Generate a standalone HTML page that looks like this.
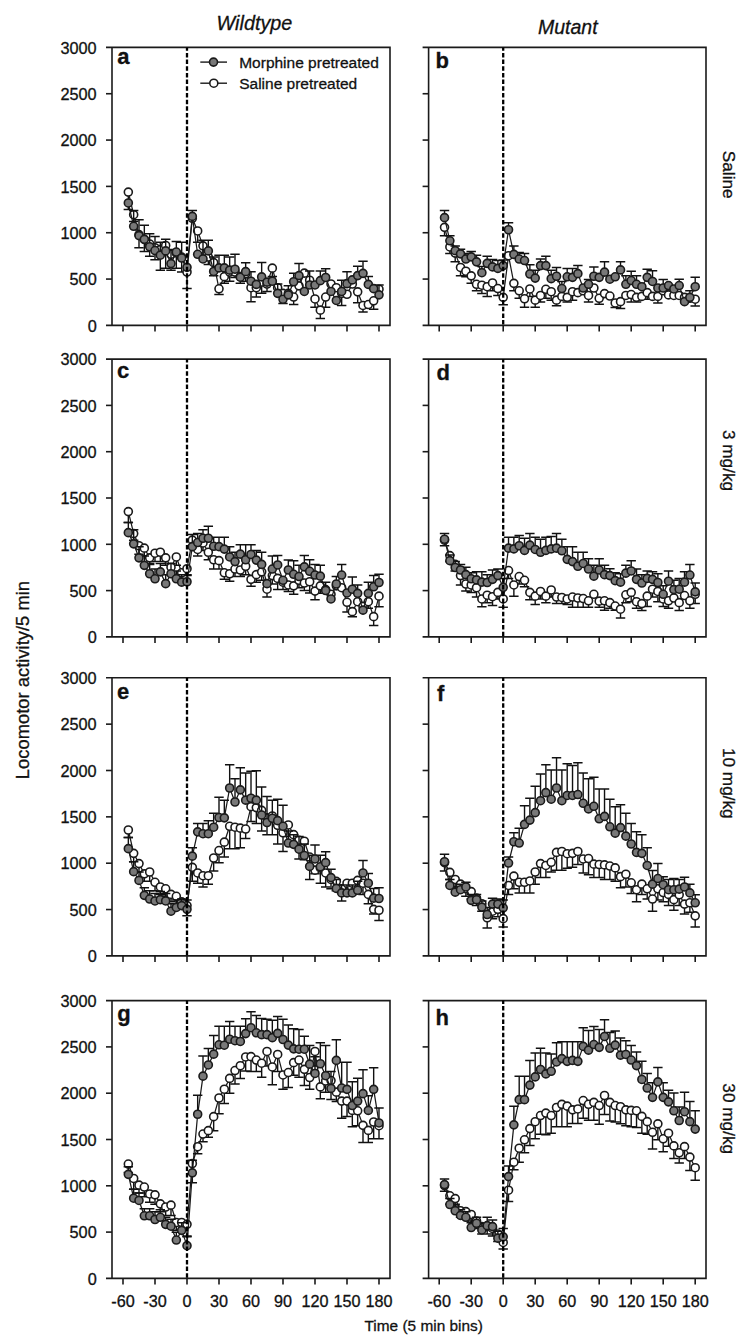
<!DOCTYPE html>
<html><head><meta charset="utf-8"><style>
html,body{margin:0;padding:0;background:#fff;overflow:hidden;}
svg{display:block;}
text{font-family:"Liberation Sans",sans-serif;fill:#111;stroke:#111;stroke-width:0.3px;}
</style></head><body>
<svg width="750" height="1344" viewBox="0 0 750 1344">
<rect width="750" height="1344" fill="#fff"/>
<path d="M106.00 47.40H390.00V325.40H106.00M112.00 47.40V325.40" fill="none" stroke="#1a1a1a" stroke-width="1.6"/>
<line x1="106.00" y1="279.07" x2="112.00" y2="279.07" stroke="#1a1a1a" stroke-width="1.6"/>
<line x1="106.00" y1="232.73" x2="112.00" y2="232.73" stroke="#1a1a1a" stroke-width="1.6"/>
<line x1="106.00" y1="186.40" x2="112.00" y2="186.40" stroke="#1a1a1a" stroke-width="1.6"/>
<line x1="106.00" y1="140.07" x2="112.00" y2="140.07" stroke="#1a1a1a" stroke-width="1.6"/>
<line x1="106.00" y1="93.73" x2="112.00" y2="93.73" stroke="#1a1a1a" stroke-width="1.6"/>
<line x1="123.00" y1="325.40" x2="123.00" y2="331.40" stroke="#1a1a1a" stroke-width="1.6"/>
<line x1="155.00" y1="325.40" x2="155.00" y2="331.40" stroke="#1a1a1a" stroke-width="1.6"/>
<line x1="187.00" y1="325.40" x2="187.00" y2="331.40" stroke="#1a1a1a" stroke-width="1.6"/>
<line x1="219.00" y1="325.40" x2="219.00" y2="331.40" stroke="#1a1a1a" stroke-width="1.6"/>
<line x1="251.00" y1="325.40" x2="251.00" y2="331.40" stroke="#1a1a1a" stroke-width="1.6"/>
<line x1="283.00" y1="325.40" x2="283.00" y2="331.40" stroke="#1a1a1a" stroke-width="1.6"/>
<line x1="315.00" y1="325.40" x2="315.00" y2="331.40" stroke="#1a1a1a" stroke-width="1.6"/>
<line x1="347.00" y1="325.40" x2="347.00" y2="331.40" stroke="#1a1a1a" stroke-width="1.6"/>
<line x1="379.00" y1="325.40" x2="379.00" y2="331.40" stroke="#1a1a1a" stroke-width="1.6"/>
<text x="117.3" y="63.6" font-size="22" font-weight="bold">a</text>
<text x="96.7" y="331.60" font-size="16.3" text-anchor="end">0</text>
<text x="96.7" y="285.27" font-size="16.3" text-anchor="end">500</text>
<text x="96.7" y="238.93" font-size="16.3" text-anchor="end">1000</text>
<text x="96.7" y="192.60" font-size="16.3" text-anchor="end">1500</text>
<text x="96.7" y="146.27" font-size="16.3" text-anchor="end">2000</text>
<text x="96.7" y="99.93" font-size="16.3" text-anchor="end">2500</text>
<text x="96.7" y="53.60" font-size="16.3" text-anchor="end">3000</text>
<path d="M128.33 192.11 L133.67 214.69 L139.00 234.67 L144.33 239.33 L149.67 244.00 L155.00 247.74 L160.33 249.60 L165.67 245.49 L171.00 254.27 L176.33 252.96 L181.67 257.07 L187.00 272.00 L192.33 218.24 L197.67 230.94 L203.00 245.86 L208.33 257.07 L213.67 262.66 L219.00 288.80 L224.33 276.67 L229.67 272.00 L235.00 272.00 L240.33 276.67 L245.67 273.87 L251.00 287.73 L256.33 287.73 L261.67 282.13 L267.00 284.00 L272.33 268.13 L277.67 287.73 L283.00 293.34 L288.33 293.34 L293.67 297.06 L299.00 285.87 L304.33 273.17 L309.67 280.26 L315.00 298.93 L320.33 310.14 L325.67 297.06 L331.00 284.00 L336.33 287.73 L341.67 293.34 L347.00 294.26 L352.33 284.00 L357.67 291.84 L363.00 305.47 L368.33 304.53 L373.67 300.80 L379.00 289.22" fill="none" stroke="#1a1a1a" stroke-width="1.25"/>
<path d="M128.33 192.11V209.46M133.67 214.69V221.59M139.00 234.67V247.74M144.33 239.33V251.46M149.67 244.00V256.13M155.00 247.74V259.87M160.33 249.60V270.13M165.67 245.49V268.27M171.00 254.27V270.13M176.33 252.96V268.27M181.67 257.07V272.01M187.00 272.00V288.43M197.67 230.94V242.14M203.00 245.86V257.07M208.33 257.07V264.54M213.67 262.66V275.73M219.00 288.80V294.39M224.33 276.67V283.20M229.67 272.00V281.33M235.00 272.00V277.59M240.33 276.67V283.20M245.67 273.87V281.34M251.00 287.73V301.73M256.33 287.73V297.06M261.67 282.13V293.34M267.00 284.00V291.47M272.33 268.13V276.53M283.00 293.34V303.60M293.67 297.06V304.53M315.00 298.93V307.33M320.33 310.14V318.53M325.67 297.06V307.33M341.67 293.34V305.47M357.67 291.84V302.66M363.00 305.47V312.00M373.67 300.80V309.19" fill="none" stroke="#111" stroke-width="1.4"/>
<path d="M123.63 209.46H133.03M128.97 221.59H138.37M134.30 247.74H143.70M139.63 251.46H149.03M144.97 256.13H154.37M150.30 259.87H159.70M155.63 270.13H165.03M160.97 268.27H170.37M166.30 270.13H175.70M171.63 268.27H181.03M176.97 272.01H186.37M182.30 288.43H191.70M192.97 242.14H202.37M198.30 257.07H207.70M203.63 264.54H213.03M208.97 275.73H218.37M214.30 294.39H223.70M219.63 283.20H229.03M224.97 281.33H234.37M230.30 277.59H239.70M235.63 283.20H245.03M240.97 281.34H250.37M246.30 301.73H255.70M251.63 297.06H261.03M256.97 293.34H266.37M262.30 291.47H271.70M267.63 276.53H277.03M278.30 303.60H287.70M288.97 304.53H298.37M310.30 307.33H319.70M315.63 318.53H325.03M320.97 307.33H330.37M336.97 305.47H346.37M352.97 302.66H362.37M358.30 312.00H367.70M368.97 309.19H378.37" fill="none" stroke="#111" stroke-width="1.5"/>
<circle cx="128.33" cy="192.11" r="4.0" fill="#fff" stroke="#1a1a1a" stroke-width="1.6"/>
<circle cx="133.67" cy="214.69" r="4.0" fill="#fff" stroke="#1a1a1a" stroke-width="1.6"/>
<circle cx="139.00" cy="234.67" r="4.0" fill="#fff" stroke="#1a1a1a" stroke-width="1.6"/>
<circle cx="144.33" cy="239.33" r="4.0" fill="#fff" stroke="#1a1a1a" stroke-width="1.6"/>
<circle cx="149.67" cy="244.00" r="4.0" fill="#fff" stroke="#1a1a1a" stroke-width="1.6"/>
<circle cx="155.00" cy="247.74" r="4.0" fill="#fff" stroke="#1a1a1a" stroke-width="1.6"/>
<circle cx="160.33" cy="249.60" r="4.0" fill="#fff" stroke="#1a1a1a" stroke-width="1.6"/>
<circle cx="165.67" cy="245.49" r="4.0" fill="#fff" stroke="#1a1a1a" stroke-width="1.6"/>
<circle cx="171.00" cy="254.27" r="4.0" fill="#fff" stroke="#1a1a1a" stroke-width="1.6"/>
<circle cx="176.33" cy="252.96" r="4.0" fill="#fff" stroke="#1a1a1a" stroke-width="1.6"/>
<circle cx="181.67" cy="257.07" r="4.0" fill="#fff" stroke="#1a1a1a" stroke-width="1.6"/>
<circle cx="187.00" cy="272.00" r="4.0" fill="#fff" stroke="#1a1a1a" stroke-width="1.6"/>
<circle cx="192.33" cy="218.24" r="4.0" fill="#fff" stroke="#1a1a1a" stroke-width="1.6"/>
<circle cx="197.67" cy="230.94" r="4.0" fill="#fff" stroke="#1a1a1a" stroke-width="1.6"/>
<circle cx="203.00" cy="245.86" r="4.0" fill="#fff" stroke="#1a1a1a" stroke-width="1.6"/>
<circle cx="208.33" cy="257.07" r="4.0" fill="#fff" stroke="#1a1a1a" stroke-width="1.6"/>
<circle cx="213.67" cy="262.66" r="4.0" fill="#fff" stroke="#1a1a1a" stroke-width="1.6"/>
<circle cx="219.00" cy="288.80" r="4.0" fill="#fff" stroke="#1a1a1a" stroke-width="1.6"/>
<circle cx="224.33" cy="276.67" r="4.0" fill="#fff" stroke="#1a1a1a" stroke-width="1.6"/>
<circle cx="229.67" cy="272.00" r="4.0" fill="#fff" stroke="#1a1a1a" stroke-width="1.6"/>
<circle cx="235.00" cy="272.00" r="4.0" fill="#fff" stroke="#1a1a1a" stroke-width="1.6"/>
<circle cx="240.33" cy="276.67" r="4.0" fill="#fff" stroke="#1a1a1a" stroke-width="1.6"/>
<circle cx="245.67" cy="273.87" r="4.0" fill="#fff" stroke="#1a1a1a" stroke-width="1.6"/>
<circle cx="251.00" cy="287.73" r="4.0" fill="#fff" stroke="#1a1a1a" stroke-width="1.6"/>
<circle cx="256.33" cy="287.73" r="4.0" fill="#fff" stroke="#1a1a1a" stroke-width="1.6"/>
<circle cx="261.67" cy="282.13" r="4.0" fill="#fff" stroke="#1a1a1a" stroke-width="1.6"/>
<circle cx="267.00" cy="284.00" r="4.0" fill="#fff" stroke="#1a1a1a" stroke-width="1.6"/>
<circle cx="272.33" cy="268.13" r="4.0" fill="#fff" stroke="#1a1a1a" stroke-width="1.6"/>
<circle cx="277.67" cy="287.73" r="4.0" fill="#fff" stroke="#1a1a1a" stroke-width="1.6"/>
<circle cx="283.00" cy="293.34" r="4.0" fill="#fff" stroke="#1a1a1a" stroke-width="1.6"/>
<circle cx="288.33" cy="293.34" r="4.0" fill="#fff" stroke="#1a1a1a" stroke-width="1.6"/>
<circle cx="293.67" cy="297.06" r="4.0" fill="#fff" stroke="#1a1a1a" stroke-width="1.6"/>
<circle cx="299.00" cy="285.87" r="4.0" fill="#fff" stroke="#1a1a1a" stroke-width="1.6"/>
<circle cx="304.33" cy="273.17" r="4.0" fill="#fff" stroke="#1a1a1a" stroke-width="1.6"/>
<circle cx="309.67" cy="280.26" r="4.0" fill="#fff" stroke="#1a1a1a" stroke-width="1.6"/>
<circle cx="315.00" cy="298.93" r="4.0" fill="#fff" stroke="#1a1a1a" stroke-width="1.6"/>
<circle cx="320.33" cy="310.14" r="4.0" fill="#fff" stroke="#1a1a1a" stroke-width="1.6"/>
<circle cx="325.67" cy="297.06" r="4.0" fill="#fff" stroke="#1a1a1a" stroke-width="1.6"/>
<circle cx="331.00" cy="284.00" r="4.0" fill="#fff" stroke="#1a1a1a" stroke-width="1.6"/>
<circle cx="336.33" cy="287.73" r="4.0" fill="#fff" stroke="#1a1a1a" stroke-width="1.6"/>
<circle cx="341.67" cy="293.34" r="4.0" fill="#fff" stroke="#1a1a1a" stroke-width="1.6"/>
<circle cx="347.00" cy="294.26" r="4.0" fill="#fff" stroke="#1a1a1a" stroke-width="1.6"/>
<circle cx="352.33" cy="284.00" r="4.0" fill="#fff" stroke="#1a1a1a" stroke-width="1.6"/>
<circle cx="357.67" cy="291.84" r="4.0" fill="#fff" stroke="#1a1a1a" stroke-width="1.6"/>
<circle cx="363.00" cy="305.47" r="4.0" fill="#fff" stroke="#1a1a1a" stroke-width="1.6"/>
<circle cx="368.33" cy="304.53" r="4.0" fill="#fff" stroke="#1a1a1a" stroke-width="1.6"/>
<circle cx="373.67" cy="300.80" r="4.0" fill="#fff" stroke="#1a1a1a" stroke-width="1.6"/>
<circle cx="379.00" cy="289.22" r="4.0" fill="#fff" stroke="#1a1a1a" stroke-width="1.6"/>
<path d="M128.33 202.93 L133.67 226.27 L139.00 235.60 L144.33 239.33 L149.67 246.80 L155.00 250.53 L160.33 255.20 L165.67 250.91 L171.00 263.60 L176.33 252.03 L181.67 258.00 L187.00 267.34 L192.33 216.38 L197.67 254.27 L203.00 258.93 L208.33 250.91 L213.67 271.44 L219.00 267.89 L224.33 267.89 L229.67 270.13 L235.00 269.20 L240.33 277.22 L245.67 271.63 L251.00 281.20 L256.33 284.38 L261.67 276.91 L267.00 282.13 L272.33 281.20 L277.67 293.34 L283.00 299.31 L288.33 294.83 L293.67 281.76 L299.00 275.60 L304.33 291.47 L309.67 284.93 L315.00 284.93 L320.33 280.64 L325.67 277.46 L331.00 291.47 L336.33 300.43 L341.67 291.47 L347.00 283.63 L352.33 279.89 L357.67 275.60 L363.00 273.36 L368.33 284.38 L373.67 288.67 L379.00 294.83" fill="none" stroke="#1a1a1a" stroke-width="1.25"/>
<path d="M133.67 226.27V210.40M139.00 235.60V219.73M144.33 239.33V225.33M149.67 246.80V233.73M155.00 250.53V236.53M160.33 255.20V242.13M165.67 250.91V239.33M171.00 263.60V249.60M176.33 252.03V241.57M181.67 258.00V242.14M192.33 216.38V210.40M203.00 258.93V240.27M208.33 250.91V240.27M213.67 271.44V257.07M219.00 267.89V255.20M224.33 267.89V255.20M229.67 270.13V257.07M235.00 269.20V254.26M245.67 271.63V262.66M251.00 281.20V271.87M261.67 276.91V262.53M277.67 293.34V284.01M288.33 294.83V285.87M293.67 281.76V273.37M299.00 275.60V263.47M309.67 284.93V270.93M320.33 280.64V270.94M325.67 277.46V268.69M341.67 291.47V280.26M347.00 283.63V271.87M357.67 275.60V266.27M363.00 273.36V261.23M368.33 284.38V276.54M373.67 288.67V284.93M379.00 294.83V284.93" fill="none" stroke="#111" stroke-width="1.4"/>
<path d="M128.97 210.40H138.37M134.30 219.73H143.70M139.63 225.33H149.03M144.97 233.73H154.37M150.30 236.53H159.70M155.63 242.13H165.03M160.97 239.33H170.37M166.30 249.60H175.70M171.63 241.57H181.03M176.97 242.14H186.37M187.63 210.40H197.03M198.30 240.27H207.70M203.63 240.27H213.03M208.97 257.07H218.37M214.30 255.20H223.70M219.63 255.20H229.03M224.97 257.07H234.37M230.30 254.26H239.70M240.97 262.66H250.37M246.30 271.87H255.70M256.97 262.53H266.37M272.97 284.01H282.37M283.63 285.87H293.03M288.97 273.37H298.37M294.30 263.47H303.70M304.97 270.93H314.37M315.63 270.94H325.03M320.97 268.69H330.37M336.97 280.26H346.37M342.30 271.87H351.70M352.97 266.27H362.37M358.30 261.23H367.70M363.63 276.54H373.03M368.97 284.93H378.37M374.30 284.93H383.70" fill="none" stroke="#111" stroke-width="1.5"/>
<circle cx="128.33" cy="202.93" r="4.0" fill="#787878" stroke="#1a1a1a" stroke-width="1.6"/>
<circle cx="133.67" cy="226.27" r="4.0" fill="#787878" stroke="#1a1a1a" stroke-width="1.6"/>
<circle cx="139.00" cy="235.60" r="4.0" fill="#787878" stroke="#1a1a1a" stroke-width="1.6"/>
<circle cx="144.33" cy="239.33" r="4.0" fill="#787878" stroke="#1a1a1a" stroke-width="1.6"/>
<circle cx="149.67" cy="246.80" r="4.0" fill="#787878" stroke="#1a1a1a" stroke-width="1.6"/>
<circle cx="155.00" cy="250.53" r="4.0" fill="#787878" stroke="#1a1a1a" stroke-width="1.6"/>
<circle cx="160.33" cy="255.20" r="4.0" fill="#787878" stroke="#1a1a1a" stroke-width="1.6"/>
<circle cx="165.67" cy="250.91" r="4.0" fill="#787878" stroke="#1a1a1a" stroke-width="1.6"/>
<circle cx="171.00" cy="263.60" r="4.0" fill="#787878" stroke="#1a1a1a" stroke-width="1.6"/>
<circle cx="176.33" cy="252.03" r="4.0" fill="#787878" stroke="#1a1a1a" stroke-width="1.6"/>
<circle cx="181.67" cy="258.00" r="4.0" fill="#787878" stroke="#1a1a1a" stroke-width="1.6"/>
<circle cx="187.00" cy="267.34" r="4.0" fill="#787878" stroke="#1a1a1a" stroke-width="1.6"/>
<circle cx="192.33" cy="216.38" r="4.0" fill="#787878" stroke="#1a1a1a" stroke-width="1.6"/>
<circle cx="197.67" cy="254.27" r="4.0" fill="#787878" stroke="#1a1a1a" stroke-width="1.6"/>
<circle cx="203.00" cy="258.93" r="4.0" fill="#787878" stroke="#1a1a1a" stroke-width="1.6"/>
<circle cx="208.33" cy="250.91" r="4.0" fill="#787878" stroke="#1a1a1a" stroke-width="1.6"/>
<circle cx="213.67" cy="271.44" r="4.0" fill="#787878" stroke="#1a1a1a" stroke-width="1.6"/>
<circle cx="219.00" cy="267.89" r="4.0" fill="#787878" stroke="#1a1a1a" stroke-width="1.6"/>
<circle cx="224.33" cy="267.89" r="4.0" fill="#787878" stroke="#1a1a1a" stroke-width="1.6"/>
<circle cx="229.67" cy="270.13" r="4.0" fill="#787878" stroke="#1a1a1a" stroke-width="1.6"/>
<circle cx="235.00" cy="269.20" r="4.0" fill="#787878" stroke="#1a1a1a" stroke-width="1.6"/>
<circle cx="240.33" cy="277.22" r="4.0" fill="#787878" stroke="#1a1a1a" stroke-width="1.6"/>
<circle cx="245.67" cy="271.63" r="4.0" fill="#787878" stroke="#1a1a1a" stroke-width="1.6"/>
<circle cx="251.00" cy="281.20" r="4.0" fill="#787878" stroke="#1a1a1a" stroke-width="1.6"/>
<circle cx="256.33" cy="284.38" r="4.0" fill="#787878" stroke="#1a1a1a" stroke-width="1.6"/>
<circle cx="261.67" cy="276.91" r="4.0" fill="#787878" stroke="#1a1a1a" stroke-width="1.6"/>
<circle cx="267.00" cy="282.13" r="4.0" fill="#787878" stroke="#1a1a1a" stroke-width="1.6"/>
<circle cx="272.33" cy="281.20" r="4.0" fill="#787878" stroke="#1a1a1a" stroke-width="1.6"/>
<circle cx="277.67" cy="293.34" r="4.0" fill="#787878" stroke="#1a1a1a" stroke-width="1.6"/>
<circle cx="283.00" cy="299.31" r="4.0" fill="#787878" stroke="#1a1a1a" stroke-width="1.6"/>
<circle cx="288.33" cy="294.83" r="4.0" fill="#787878" stroke="#1a1a1a" stroke-width="1.6"/>
<circle cx="293.67" cy="281.76" r="4.0" fill="#787878" stroke="#1a1a1a" stroke-width="1.6"/>
<circle cx="299.00" cy="275.60" r="4.0" fill="#787878" stroke="#1a1a1a" stroke-width="1.6"/>
<circle cx="304.33" cy="291.47" r="4.0" fill="#787878" stroke="#1a1a1a" stroke-width="1.6"/>
<circle cx="309.67" cy="284.93" r="4.0" fill="#787878" stroke="#1a1a1a" stroke-width="1.6"/>
<circle cx="315.00" cy="284.93" r="4.0" fill="#787878" stroke="#1a1a1a" stroke-width="1.6"/>
<circle cx="320.33" cy="280.64" r="4.0" fill="#787878" stroke="#1a1a1a" stroke-width="1.6"/>
<circle cx="325.67" cy="277.46" r="4.0" fill="#787878" stroke="#1a1a1a" stroke-width="1.6"/>
<circle cx="331.00" cy="291.47" r="4.0" fill="#787878" stroke="#1a1a1a" stroke-width="1.6"/>
<circle cx="336.33" cy="300.43" r="4.0" fill="#787878" stroke="#1a1a1a" stroke-width="1.6"/>
<circle cx="341.67" cy="291.47" r="4.0" fill="#787878" stroke="#1a1a1a" stroke-width="1.6"/>
<circle cx="347.00" cy="283.63" r="4.0" fill="#787878" stroke="#1a1a1a" stroke-width="1.6"/>
<circle cx="352.33" cy="279.89" r="4.0" fill="#787878" stroke="#1a1a1a" stroke-width="1.6"/>
<circle cx="357.67" cy="275.60" r="4.0" fill="#787878" stroke="#1a1a1a" stroke-width="1.6"/>
<circle cx="363.00" cy="273.36" r="4.0" fill="#787878" stroke="#1a1a1a" stroke-width="1.6"/>
<circle cx="368.33" cy="284.38" r="4.0" fill="#787878" stroke="#1a1a1a" stroke-width="1.6"/>
<circle cx="373.67" cy="288.67" r="4.0" fill="#787878" stroke="#1a1a1a" stroke-width="1.6"/>
<circle cx="379.00" cy="294.83" r="4.0" fill="#787878" stroke="#1a1a1a" stroke-width="1.6"/>
<line x1="187.00" y1="47.40" x2="187.00" y2="325.40" stroke="#000" stroke-width="2.3" stroke-dasharray="4.5 2.18" stroke-dashoffset="1.2"/>
<path d="M422.60 47.40H706.00V325.40H422.60M428.60 47.40V325.40" fill="none" stroke="#1a1a1a" stroke-width="1.6"/>
<line x1="422.60" y1="279.07" x2="428.60" y2="279.07" stroke="#1a1a1a" stroke-width="1.6"/>
<line x1="422.60" y1="232.73" x2="428.60" y2="232.73" stroke="#1a1a1a" stroke-width="1.6"/>
<line x1="422.60" y1="186.40" x2="428.60" y2="186.40" stroke="#1a1a1a" stroke-width="1.6"/>
<line x1="422.60" y1="140.07" x2="428.60" y2="140.07" stroke="#1a1a1a" stroke-width="1.6"/>
<line x1="422.60" y1="93.73" x2="428.60" y2="93.73" stroke="#1a1a1a" stroke-width="1.6"/>
<line x1="439.20" y1="325.40" x2="439.20" y2="331.40" stroke="#1a1a1a" stroke-width="1.6"/>
<line x1="471.20" y1="325.40" x2="471.20" y2="331.40" stroke="#1a1a1a" stroke-width="1.6"/>
<line x1="503.20" y1="325.40" x2="503.20" y2="331.40" stroke="#1a1a1a" stroke-width="1.6"/>
<line x1="535.20" y1="325.40" x2="535.20" y2="331.40" stroke="#1a1a1a" stroke-width="1.6"/>
<line x1="567.20" y1="325.40" x2="567.20" y2="331.40" stroke="#1a1a1a" stroke-width="1.6"/>
<line x1="599.20" y1="325.40" x2="599.20" y2="331.40" stroke="#1a1a1a" stroke-width="1.6"/>
<line x1="631.20" y1="325.40" x2="631.20" y2="331.40" stroke="#1a1a1a" stroke-width="1.6"/>
<line x1="663.20" y1="325.40" x2="663.20" y2="331.40" stroke="#1a1a1a" stroke-width="1.6"/>
<line x1="695.20" y1="325.40" x2="695.20" y2="331.40" stroke="#1a1a1a" stroke-width="1.6"/>
<text x="435.5" y="67.7" font-size="22" font-weight="bold">b</text>
<path d="M444.53 227.33 L449.87 246.93 L455.20 253.09 L460.53 267.46 L465.87 271.20 L471.20 275.87 L476.53 284.27 L481.87 285.20 L487.20 286.69 L492.53 282.96 L497.87 288.56 L503.20 297.33 L508.53 255.71 L513.87 283.33 L519.20 290.80 L524.53 298.82 L529.87 288.94 L535.20 300.13 L540.53 295.47 L545.87 289.31 L551.20 291.73 L556.53 300.13 L561.87 296.40 L567.20 297.33 L572.53 291.73 L577.87 292.67 L583.20 290.80 L588.53 295.47 L593.87 288.00 L599.20 298.27 L604.53 293.60 L609.87 296.02 L615.20 302.94 L620.53 301.63 L625.87 295.47 L631.20 294.53 L636.53 297.33 L641.87 296.40 L647.20 292.67 L652.53 296.40 L657.87 296.40 L663.20 290.80 L668.53 294.90 L673.87 295.47 L679.20 295.47 L684.53 297.33 L689.87 298.27 L695.20 299.20" fill="none" stroke="#1a1a1a" stroke-width="1.25"/>
<path d="M444.53 227.33V235.73M449.87 246.93V253.46M455.20 253.09V261.87M460.53 267.46V275.86M465.87 271.20V276.80M471.20 275.87V283.34M476.53 284.27V290.80M481.87 285.20V293.60M487.20 286.69V296.40M492.53 282.96V290.80M497.87 288.56V295.46M503.20 297.33V304.80M513.87 283.33V290.80M519.20 290.80V298.27M524.53 298.82V307.22M529.87 288.94V296.40M535.20 300.13V307.22M540.53 295.47V302.00M545.87 289.31V298.27M551.20 291.73V300.13M556.53 300.13V305.73M567.20 297.33V302.00M572.53 291.73V300.13M588.53 295.47V302.00M599.20 298.27V304.24M615.20 302.94V307.61M620.53 301.63V308.53M631.20 294.53V302.00M636.53 297.33V302.00M647.20 292.67V299.20M657.87 296.40V302.94M695.20 299.20V306.11" fill="none" stroke="#111" stroke-width="1.4"/>
<path d="M439.83 235.73H449.23M445.17 253.46H454.57M450.50 261.87H459.90M455.83 275.86H465.23M461.17 276.80H470.57M466.50 283.34H475.90M471.83 290.80H481.23M477.17 293.60H486.57M482.50 296.40H491.90M487.83 290.80H497.23M493.17 295.46H502.57M498.50 304.80H507.90M509.17 290.80H518.57M514.50 298.27H523.90M519.83 307.22H529.23M525.17 296.40H534.57M530.50 307.22H539.90M535.83 302.00H545.23M541.17 298.27H550.57M546.50 300.13H555.90M551.83 305.73H561.23M562.50 302.00H571.90M567.83 300.13H577.23M583.83 302.00H593.23M594.50 304.24H603.90M610.50 307.61H619.90M615.83 308.53H625.23M626.50 302.00H635.90M631.83 302.00H641.23M642.50 299.20H651.90M653.17 302.94H662.57M690.50 306.11H699.90" fill="none" stroke="#111" stroke-width="1.5"/>
<circle cx="444.53" cy="227.33" r="4.0" fill="#fff" stroke="#1a1a1a" stroke-width="1.6"/>
<circle cx="449.87" cy="246.93" r="4.0" fill="#fff" stroke="#1a1a1a" stroke-width="1.6"/>
<circle cx="455.20" cy="253.09" r="4.0" fill="#fff" stroke="#1a1a1a" stroke-width="1.6"/>
<circle cx="460.53" cy="267.46" r="4.0" fill="#fff" stroke="#1a1a1a" stroke-width="1.6"/>
<circle cx="465.87" cy="271.20" r="4.0" fill="#fff" stroke="#1a1a1a" stroke-width="1.6"/>
<circle cx="471.20" cy="275.87" r="4.0" fill="#fff" stroke="#1a1a1a" stroke-width="1.6"/>
<circle cx="476.53" cy="284.27" r="4.0" fill="#fff" stroke="#1a1a1a" stroke-width="1.6"/>
<circle cx="481.87" cy="285.20" r="4.0" fill="#fff" stroke="#1a1a1a" stroke-width="1.6"/>
<circle cx="487.20" cy="286.69" r="4.0" fill="#fff" stroke="#1a1a1a" stroke-width="1.6"/>
<circle cx="492.53" cy="282.96" r="4.0" fill="#fff" stroke="#1a1a1a" stroke-width="1.6"/>
<circle cx="497.87" cy="288.56" r="4.0" fill="#fff" stroke="#1a1a1a" stroke-width="1.6"/>
<circle cx="503.20" cy="297.33" r="4.0" fill="#fff" stroke="#1a1a1a" stroke-width="1.6"/>
<circle cx="508.53" cy="255.71" r="4.0" fill="#fff" stroke="#1a1a1a" stroke-width="1.6"/>
<circle cx="513.87" cy="283.33" r="4.0" fill="#fff" stroke="#1a1a1a" stroke-width="1.6"/>
<circle cx="519.20" cy="290.80" r="4.0" fill="#fff" stroke="#1a1a1a" stroke-width="1.6"/>
<circle cx="524.53" cy="298.82" r="4.0" fill="#fff" stroke="#1a1a1a" stroke-width="1.6"/>
<circle cx="529.87" cy="288.94" r="4.0" fill="#fff" stroke="#1a1a1a" stroke-width="1.6"/>
<circle cx="535.20" cy="300.13" r="4.0" fill="#fff" stroke="#1a1a1a" stroke-width="1.6"/>
<circle cx="540.53" cy="295.47" r="4.0" fill="#fff" stroke="#1a1a1a" stroke-width="1.6"/>
<circle cx="545.87" cy="289.31" r="4.0" fill="#fff" stroke="#1a1a1a" stroke-width="1.6"/>
<circle cx="551.20" cy="291.73" r="4.0" fill="#fff" stroke="#1a1a1a" stroke-width="1.6"/>
<circle cx="556.53" cy="300.13" r="4.0" fill="#fff" stroke="#1a1a1a" stroke-width="1.6"/>
<circle cx="561.87" cy="296.40" r="4.0" fill="#fff" stroke="#1a1a1a" stroke-width="1.6"/>
<circle cx="567.20" cy="297.33" r="4.0" fill="#fff" stroke="#1a1a1a" stroke-width="1.6"/>
<circle cx="572.53" cy="291.73" r="4.0" fill="#fff" stroke="#1a1a1a" stroke-width="1.6"/>
<circle cx="577.87" cy="292.67" r="4.0" fill="#fff" stroke="#1a1a1a" stroke-width="1.6"/>
<circle cx="583.20" cy="290.80" r="4.0" fill="#fff" stroke="#1a1a1a" stroke-width="1.6"/>
<circle cx="588.53" cy="295.47" r="4.0" fill="#fff" stroke="#1a1a1a" stroke-width="1.6"/>
<circle cx="593.87" cy="288.00" r="4.0" fill="#fff" stroke="#1a1a1a" stroke-width="1.6"/>
<circle cx="599.20" cy="298.27" r="4.0" fill="#fff" stroke="#1a1a1a" stroke-width="1.6"/>
<circle cx="604.53" cy="293.60" r="4.0" fill="#fff" stroke="#1a1a1a" stroke-width="1.6"/>
<circle cx="609.87" cy="296.02" r="4.0" fill="#fff" stroke="#1a1a1a" stroke-width="1.6"/>
<circle cx="615.20" cy="302.94" r="4.0" fill="#fff" stroke="#1a1a1a" stroke-width="1.6"/>
<circle cx="620.53" cy="301.63" r="4.0" fill="#fff" stroke="#1a1a1a" stroke-width="1.6"/>
<circle cx="625.87" cy="295.47" r="4.0" fill="#fff" stroke="#1a1a1a" stroke-width="1.6"/>
<circle cx="631.20" cy="294.53" r="4.0" fill="#fff" stroke="#1a1a1a" stroke-width="1.6"/>
<circle cx="636.53" cy="297.33" r="4.0" fill="#fff" stroke="#1a1a1a" stroke-width="1.6"/>
<circle cx="641.87" cy="296.40" r="4.0" fill="#fff" stroke="#1a1a1a" stroke-width="1.6"/>
<circle cx="647.20" cy="292.67" r="4.0" fill="#fff" stroke="#1a1a1a" stroke-width="1.6"/>
<circle cx="652.53" cy="296.40" r="4.0" fill="#fff" stroke="#1a1a1a" stroke-width="1.6"/>
<circle cx="657.87" cy="296.40" r="4.0" fill="#fff" stroke="#1a1a1a" stroke-width="1.6"/>
<circle cx="663.20" cy="290.80" r="4.0" fill="#fff" stroke="#1a1a1a" stroke-width="1.6"/>
<circle cx="668.53" cy="294.90" r="4.0" fill="#fff" stroke="#1a1a1a" stroke-width="1.6"/>
<circle cx="673.87" cy="295.47" r="4.0" fill="#fff" stroke="#1a1a1a" stroke-width="1.6"/>
<circle cx="679.20" cy="295.47" r="4.0" fill="#fff" stroke="#1a1a1a" stroke-width="1.6"/>
<circle cx="684.53" cy="297.33" r="4.0" fill="#fff" stroke="#1a1a1a" stroke-width="1.6"/>
<circle cx="689.87" cy="298.27" r="4.0" fill="#fff" stroke="#1a1a1a" stroke-width="1.6"/>
<circle cx="695.20" cy="299.20" r="4.0" fill="#fff" stroke="#1a1a1a" stroke-width="1.6"/>
<path d="M444.53 217.63 L449.87 240.78 L455.20 250.66 L460.53 253.84 L465.87 259.07 L471.20 256.83 L476.53 261.87 L481.87 272.69 L487.20 263.36 L492.53 266.91 L497.87 268.40 L503.20 265.60 L508.53 229.76 L513.87 254.40 L519.20 259.07 L524.53 260.56 L529.87 274.00 L535.20 278.10 L540.53 265.60 L545.87 265.60 L551.20 278.67 L556.53 276.24 L561.87 288.56 L567.20 276.80 L572.53 277.36 L577.87 273.63 L583.20 288.00 L588.53 284.27 L593.87 276.24 L599.20 277.36 L604.53 272.14 L609.87 279.22 L615.20 276.80 L620.53 269.89 L625.87 284.27 L631.20 280.53 L636.53 284.27 L641.87 286.69 L647.20 277.36 L652.53 281.47 L657.87 288.00 L663.20 288.00 L668.53 285.57 L673.87 288.94 L679.20 285.57 L684.53 301.63 L689.87 297.33 L695.20 286.69" fill="none" stroke="#1a1a1a" stroke-width="1.25"/>
<path d="M444.53 217.63V210.54M449.87 240.78V235.74M455.20 250.66V245.99M460.53 253.84V249.37M465.87 259.07V253.47M471.20 256.83V251.60M476.53 261.87V255.33M481.87 272.69V266.53M487.20 263.36V256.27M492.53 266.91V259.44M497.87 268.40V260.56M503.20 265.60V260.01M508.53 229.76V222.67M513.87 254.40V246.00M519.20 259.07V252.54M524.53 260.56V253.47M529.87 274.00V264.67M535.20 278.10V270.26M540.53 265.60V259.07M545.87 265.60V256.27M551.20 278.67V270.27M556.53 276.24V267.46M561.87 288.56V281.47M567.20 276.80V268.40M572.53 277.36V268.40M577.87 273.63V265.60M588.53 284.27V279.59M593.87 276.24V266.91M604.53 272.14V261.87M620.53 269.89V261.87M625.87 284.27V275.87M631.20 280.53V271.20M636.53 284.27V275.87M647.20 277.36V269.34M652.53 281.47V270.64M663.20 288.00V279.60M679.20 285.57V279.22M689.87 297.33V290.80M695.20 286.69V277.36" fill="none" stroke="#111" stroke-width="1.4"/>
<path d="M439.83 210.54H449.23M445.17 235.74H454.57M450.50 245.99H459.90M455.83 249.37H465.23M461.17 253.47H470.57M466.50 251.60H475.90M471.83 255.33H481.23M477.17 266.53H486.57M482.50 256.27H491.90M487.83 259.44H497.23M493.17 260.56H502.57M498.50 260.01H507.90M503.83 222.67H513.23M509.17 246.00H518.57M514.50 252.54H523.90M519.83 253.47H529.23M525.17 264.67H534.57M530.50 270.26H539.90M535.83 259.07H545.23M541.17 256.27H550.57M546.50 270.27H555.90M551.83 267.46H561.23M557.17 281.47H566.57M562.50 268.40H571.90M567.83 268.40H577.23M573.17 265.60H582.57M583.83 279.59H593.23M589.17 266.91H598.57M599.83 261.87H609.23M615.83 261.87H625.23M621.17 275.87H630.57M626.50 271.20H635.90M631.83 275.87H641.23M642.50 269.34H651.90M647.83 270.64H657.23M658.50 279.60H667.90M674.50 279.22H683.90M685.17 290.80H694.57M690.50 277.36H699.90" fill="none" stroke="#111" stroke-width="1.5"/>
<circle cx="444.53" cy="217.63" r="4.0" fill="#787878" stroke="#1a1a1a" stroke-width="1.6"/>
<circle cx="449.87" cy="240.78" r="4.0" fill="#787878" stroke="#1a1a1a" stroke-width="1.6"/>
<circle cx="455.20" cy="250.66" r="4.0" fill="#787878" stroke="#1a1a1a" stroke-width="1.6"/>
<circle cx="460.53" cy="253.84" r="4.0" fill="#787878" stroke="#1a1a1a" stroke-width="1.6"/>
<circle cx="465.87" cy="259.07" r="4.0" fill="#787878" stroke="#1a1a1a" stroke-width="1.6"/>
<circle cx="471.20" cy="256.83" r="4.0" fill="#787878" stroke="#1a1a1a" stroke-width="1.6"/>
<circle cx="476.53" cy="261.87" r="4.0" fill="#787878" stroke="#1a1a1a" stroke-width="1.6"/>
<circle cx="481.87" cy="272.69" r="4.0" fill="#787878" stroke="#1a1a1a" stroke-width="1.6"/>
<circle cx="487.20" cy="263.36" r="4.0" fill="#787878" stroke="#1a1a1a" stroke-width="1.6"/>
<circle cx="492.53" cy="266.91" r="4.0" fill="#787878" stroke="#1a1a1a" stroke-width="1.6"/>
<circle cx="497.87" cy="268.40" r="4.0" fill="#787878" stroke="#1a1a1a" stroke-width="1.6"/>
<circle cx="503.20" cy="265.60" r="4.0" fill="#787878" stroke="#1a1a1a" stroke-width="1.6"/>
<circle cx="508.53" cy="229.76" r="4.0" fill="#787878" stroke="#1a1a1a" stroke-width="1.6"/>
<circle cx="513.87" cy="254.40" r="4.0" fill="#787878" stroke="#1a1a1a" stroke-width="1.6"/>
<circle cx="519.20" cy="259.07" r="4.0" fill="#787878" stroke="#1a1a1a" stroke-width="1.6"/>
<circle cx="524.53" cy="260.56" r="4.0" fill="#787878" stroke="#1a1a1a" stroke-width="1.6"/>
<circle cx="529.87" cy="274.00" r="4.0" fill="#787878" stroke="#1a1a1a" stroke-width="1.6"/>
<circle cx="535.20" cy="278.10" r="4.0" fill="#787878" stroke="#1a1a1a" stroke-width="1.6"/>
<circle cx="540.53" cy="265.60" r="4.0" fill="#787878" stroke="#1a1a1a" stroke-width="1.6"/>
<circle cx="545.87" cy="265.60" r="4.0" fill="#787878" stroke="#1a1a1a" stroke-width="1.6"/>
<circle cx="551.20" cy="278.67" r="4.0" fill="#787878" stroke="#1a1a1a" stroke-width="1.6"/>
<circle cx="556.53" cy="276.24" r="4.0" fill="#787878" stroke="#1a1a1a" stroke-width="1.6"/>
<circle cx="561.87" cy="288.56" r="4.0" fill="#787878" stroke="#1a1a1a" stroke-width="1.6"/>
<circle cx="567.20" cy="276.80" r="4.0" fill="#787878" stroke="#1a1a1a" stroke-width="1.6"/>
<circle cx="572.53" cy="277.36" r="4.0" fill="#787878" stroke="#1a1a1a" stroke-width="1.6"/>
<circle cx="577.87" cy="273.63" r="4.0" fill="#787878" stroke="#1a1a1a" stroke-width="1.6"/>
<circle cx="583.20" cy="288.00" r="4.0" fill="#787878" stroke="#1a1a1a" stroke-width="1.6"/>
<circle cx="588.53" cy="284.27" r="4.0" fill="#787878" stroke="#1a1a1a" stroke-width="1.6"/>
<circle cx="593.87" cy="276.24" r="4.0" fill="#787878" stroke="#1a1a1a" stroke-width="1.6"/>
<circle cx="599.20" cy="277.36" r="4.0" fill="#787878" stroke="#1a1a1a" stroke-width="1.6"/>
<circle cx="604.53" cy="272.14" r="4.0" fill="#787878" stroke="#1a1a1a" stroke-width="1.6"/>
<circle cx="609.87" cy="279.22" r="4.0" fill="#787878" stroke="#1a1a1a" stroke-width="1.6"/>
<circle cx="615.20" cy="276.80" r="4.0" fill="#787878" stroke="#1a1a1a" stroke-width="1.6"/>
<circle cx="620.53" cy="269.89" r="4.0" fill="#787878" stroke="#1a1a1a" stroke-width="1.6"/>
<circle cx="625.87" cy="284.27" r="4.0" fill="#787878" stroke="#1a1a1a" stroke-width="1.6"/>
<circle cx="631.20" cy="280.53" r="4.0" fill="#787878" stroke="#1a1a1a" stroke-width="1.6"/>
<circle cx="636.53" cy="284.27" r="4.0" fill="#787878" stroke="#1a1a1a" stroke-width="1.6"/>
<circle cx="641.87" cy="286.69" r="4.0" fill="#787878" stroke="#1a1a1a" stroke-width="1.6"/>
<circle cx="647.20" cy="277.36" r="4.0" fill="#787878" stroke="#1a1a1a" stroke-width="1.6"/>
<circle cx="652.53" cy="281.47" r="4.0" fill="#787878" stroke="#1a1a1a" stroke-width="1.6"/>
<circle cx="657.87" cy="288.00" r="4.0" fill="#787878" stroke="#1a1a1a" stroke-width="1.6"/>
<circle cx="663.20" cy="288.00" r="4.0" fill="#787878" stroke="#1a1a1a" stroke-width="1.6"/>
<circle cx="668.53" cy="285.57" r="4.0" fill="#787878" stroke="#1a1a1a" stroke-width="1.6"/>
<circle cx="673.87" cy="288.94" r="4.0" fill="#787878" stroke="#1a1a1a" stroke-width="1.6"/>
<circle cx="679.20" cy="285.57" r="4.0" fill="#787878" stroke="#1a1a1a" stroke-width="1.6"/>
<circle cx="684.53" cy="301.63" r="4.0" fill="#787878" stroke="#1a1a1a" stroke-width="1.6"/>
<circle cx="689.87" cy="297.33" r="4.0" fill="#787878" stroke="#1a1a1a" stroke-width="1.6"/>
<circle cx="695.20" cy="286.69" r="4.0" fill="#787878" stroke="#1a1a1a" stroke-width="1.6"/>
<line x1="503.20" y1="47.40" x2="503.20" y2="325.40" stroke="#000" stroke-width="2.3" stroke-dasharray="4.5 2.18" stroke-dashoffset="1.2"/>
<path d="M106.00 359.10H390.00V636.90H106.00M112.00 359.10V636.90" fill="none" stroke="#1a1a1a" stroke-width="1.6"/>
<line x1="106.00" y1="590.60" x2="112.00" y2="590.60" stroke="#1a1a1a" stroke-width="1.6"/>
<line x1="106.00" y1="544.30" x2="112.00" y2="544.30" stroke="#1a1a1a" stroke-width="1.6"/>
<line x1="106.00" y1="498.00" x2="112.00" y2="498.00" stroke="#1a1a1a" stroke-width="1.6"/>
<line x1="106.00" y1="451.70" x2="112.00" y2="451.70" stroke="#1a1a1a" stroke-width="1.6"/>
<line x1="106.00" y1="405.40" x2="112.00" y2="405.40" stroke="#1a1a1a" stroke-width="1.6"/>
<line x1="123.00" y1="636.90" x2="123.00" y2="642.90" stroke="#1a1a1a" stroke-width="1.6"/>
<line x1="155.00" y1="636.90" x2="155.00" y2="642.90" stroke="#1a1a1a" stroke-width="1.6"/>
<line x1="187.00" y1="636.90" x2="187.00" y2="642.90" stroke="#1a1a1a" stroke-width="1.6"/>
<line x1="219.00" y1="636.90" x2="219.00" y2="642.90" stroke="#1a1a1a" stroke-width="1.6"/>
<line x1="251.00" y1="636.90" x2="251.00" y2="642.90" stroke="#1a1a1a" stroke-width="1.6"/>
<line x1="283.00" y1="636.90" x2="283.00" y2="642.90" stroke="#1a1a1a" stroke-width="1.6"/>
<line x1="315.00" y1="636.90" x2="315.00" y2="642.90" stroke="#1a1a1a" stroke-width="1.6"/>
<line x1="347.00" y1="636.90" x2="347.00" y2="642.90" stroke="#1a1a1a" stroke-width="1.6"/>
<line x1="379.00" y1="636.90" x2="379.00" y2="642.90" stroke="#1a1a1a" stroke-width="1.6"/>
<text x="117.0" y="378.2" font-size="22" font-weight="bold">c</text>
<text x="96.7" y="643.10" font-size="16.3" text-anchor="end">0</text>
<text x="96.7" y="596.80" font-size="16.3" text-anchor="end">500</text>
<text x="96.7" y="550.50" font-size="16.3" text-anchor="end">1000</text>
<text x="96.7" y="504.20" font-size="16.3" text-anchor="end">1500</text>
<text x="96.7" y="457.90" font-size="16.3" text-anchor="end">2000</text>
<text x="96.7" y="411.60" font-size="16.3" text-anchor="end">2500</text>
<text x="96.7" y="365.30" font-size="16.3" text-anchor="end">3000</text>
<path d="M128.33 511.58 L133.67 533.60 L139.00 545.74 L144.33 548.16 L149.67 557.87 L155.00 553.20 L160.33 552.26 L165.67 557.87 L171.00 567.20 L176.33 556.93 L181.67 572.80 L187.00 568.69 L192.33 540.13 L197.67 549.47 L203.00 542.93 L208.33 552.26 L213.67 559.74 L219.00 560.66 L224.33 572.80 L229.67 573.74 L235.00 569.07 L240.33 570.00 L245.67 566.26 L251.00 579.33 L256.33 574.66 L261.67 571.87 L267.00 589.23 L272.33 575.60 L277.67 578.40 L283.00 582.14 L288.33 584.93 L293.67 585.87 L299.00 580.27 L304.33 583.06 L309.67 581.76 L315.00 591.09 L320.33 585.87 L325.67 589.60 L331.00 594.27 L336.33 585.87 L341.67 587.73 L347.00 602.30 L352.33 611.63 L357.67 601.73 L363.00 606.40 L368.33 601.73 L373.67 616.67 L379.00 596.14" fill="none" stroke="#1a1a1a" stroke-width="1.25"/>
<path d="M128.33 511.58V522.40M133.67 533.60V540.13M139.00 545.74V554.13M144.33 548.16V556.00M149.67 557.87V563.47M155.00 553.20V561.60M160.33 552.26V561.60M165.67 557.87V565.33M171.00 567.20V574.66M176.33 556.93V565.33M181.67 572.80V578.40M187.00 568.69V575.60M192.33 540.13V546.67M197.67 549.47V556.00M203.00 542.93V550.39M208.33 552.26V559.73M213.67 559.74V569.07M219.00 560.66V569.06M224.33 572.80V579.34M229.67 573.74V581.20M235.00 569.07V576.53M240.33 570.00V576.53M245.67 566.26V574.66M251.00 579.33V586.24M256.33 574.66V582.13M261.67 571.87V580.27M267.00 589.23V597.07M272.33 575.60V584.00M277.67 578.40V589.61M283.00 582.14V589.60M288.33 584.93V591.47M293.67 585.87V594.27M299.00 580.27V587.73M304.33 583.06V590.53M309.67 581.76V592.96M315.00 591.09V599.86M320.33 585.87V593.33M347.00 602.30V612.00M352.33 611.63V616.67M368.33 601.73V608.27M373.67 616.67V625.44M379.00 596.14V606.78" fill="none" stroke="#111" stroke-width="1.4"/>
<path d="M123.63 522.40H133.03M128.97 540.13H138.37M134.30 554.13H143.70M139.63 556.00H149.03M144.97 563.47H154.37M150.30 561.60H159.70M155.63 561.60H165.03M160.97 565.33H170.37M166.30 574.66H175.70M171.63 565.33H181.03M176.97 578.40H186.37M182.30 575.60H191.70M187.63 546.67H197.03M192.97 556.00H202.37M198.30 550.39H207.70M203.63 559.73H213.03M208.97 569.07H218.37M214.30 569.06H223.70M219.63 579.34H229.03M224.97 581.20H234.37M230.30 576.53H239.70M235.63 576.53H245.03M240.97 574.66H250.37M246.30 586.24H255.70M251.63 582.13H261.03M256.97 580.27H266.37M262.30 597.07H271.70M267.63 584.00H277.03M272.97 589.61H282.37M278.30 589.60H287.70M283.63 591.47H293.03M288.97 594.27H298.37M294.30 587.73H303.70M299.63 590.53H309.03M304.97 592.96H314.37M310.30 599.86H319.70M315.63 593.33H325.03M342.30 612.00H351.70M347.63 616.67H357.03M363.63 608.27H373.03M368.97 625.44H378.37M374.30 606.78H383.70" fill="none" stroke="#111" stroke-width="1.5"/>
<circle cx="128.33" cy="511.58" r="4.0" fill="#fff" stroke="#1a1a1a" stroke-width="1.6"/>
<circle cx="133.67" cy="533.60" r="4.0" fill="#fff" stroke="#1a1a1a" stroke-width="1.6"/>
<circle cx="139.00" cy="545.74" r="4.0" fill="#fff" stroke="#1a1a1a" stroke-width="1.6"/>
<circle cx="144.33" cy="548.16" r="4.0" fill="#fff" stroke="#1a1a1a" stroke-width="1.6"/>
<circle cx="149.67" cy="557.87" r="4.0" fill="#fff" stroke="#1a1a1a" stroke-width="1.6"/>
<circle cx="155.00" cy="553.20" r="4.0" fill="#fff" stroke="#1a1a1a" stroke-width="1.6"/>
<circle cx="160.33" cy="552.26" r="4.0" fill="#fff" stroke="#1a1a1a" stroke-width="1.6"/>
<circle cx="165.67" cy="557.87" r="4.0" fill="#fff" stroke="#1a1a1a" stroke-width="1.6"/>
<circle cx="171.00" cy="567.20" r="4.0" fill="#fff" stroke="#1a1a1a" stroke-width="1.6"/>
<circle cx="176.33" cy="556.93" r="4.0" fill="#fff" stroke="#1a1a1a" stroke-width="1.6"/>
<circle cx="181.67" cy="572.80" r="4.0" fill="#fff" stroke="#1a1a1a" stroke-width="1.6"/>
<circle cx="187.00" cy="568.69" r="4.0" fill="#fff" stroke="#1a1a1a" stroke-width="1.6"/>
<circle cx="192.33" cy="540.13" r="4.0" fill="#fff" stroke="#1a1a1a" stroke-width="1.6"/>
<circle cx="197.67" cy="549.47" r="4.0" fill="#fff" stroke="#1a1a1a" stroke-width="1.6"/>
<circle cx="203.00" cy="542.93" r="4.0" fill="#fff" stroke="#1a1a1a" stroke-width="1.6"/>
<circle cx="208.33" cy="552.26" r="4.0" fill="#fff" stroke="#1a1a1a" stroke-width="1.6"/>
<circle cx="213.67" cy="559.74" r="4.0" fill="#fff" stroke="#1a1a1a" stroke-width="1.6"/>
<circle cx="219.00" cy="560.66" r="4.0" fill="#fff" stroke="#1a1a1a" stroke-width="1.6"/>
<circle cx="224.33" cy="572.80" r="4.0" fill="#fff" stroke="#1a1a1a" stroke-width="1.6"/>
<circle cx="229.67" cy="573.74" r="4.0" fill="#fff" stroke="#1a1a1a" stroke-width="1.6"/>
<circle cx="235.00" cy="569.07" r="4.0" fill="#fff" stroke="#1a1a1a" stroke-width="1.6"/>
<circle cx="240.33" cy="570.00" r="4.0" fill="#fff" stroke="#1a1a1a" stroke-width="1.6"/>
<circle cx="245.67" cy="566.26" r="4.0" fill="#fff" stroke="#1a1a1a" stroke-width="1.6"/>
<circle cx="251.00" cy="579.33" r="4.0" fill="#fff" stroke="#1a1a1a" stroke-width="1.6"/>
<circle cx="256.33" cy="574.66" r="4.0" fill="#fff" stroke="#1a1a1a" stroke-width="1.6"/>
<circle cx="261.67" cy="571.87" r="4.0" fill="#fff" stroke="#1a1a1a" stroke-width="1.6"/>
<circle cx="267.00" cy="589.23" r="4.0" fill="#fff" stroke="#1a1a1a" stroke-width="1.6"/>
<circle cx="272.33" cy="575.60" r="4.0" fill="#fff" stroke="#1a1a1a" stroke-width="1.6"/>
<circle cx="277.67" cy="578.40" r="4.0" fill="#fff" stroke="#1a1a1a" stroke-width="1.6"/>
<circle cx="283.00" cy="582.14" r="4.0" fill="#fff" stroke="#1a1a1a" stroke-width="1.6"/>
<circle cx="288.33" cy="584.93" r="4.0" fill="#fff" stroke="#1a1a1a" stroke-width="1.6"/>
<circle cx="293.67" cy="585.87" r="4.0" fill="#fff" stroke="#1a1a1a" stroke-width="1.6"/>
<circle cx="299.00" cy="580.27" r="4.0" fill="#fff" stroke="#1a1a1a" stroke-width="1.6"/>
<circle cx="304.33" cy="583.06" r="4.0" fill="#fff" stroke="#1a1a1a" stroke-width="1.6"/>
<circle cx="309.67" cy="581.76" r="4.0" fill="#fff" stroke="#1a1a1a" stroke-width="1.6"/>
<circle cx="315.00" cy="591.09" r="4.0" fill="#fff" stroke="#1a1a1a" stroke-width="1.6"/>
<circle cx="320.33" cy="585.87" r="4.0" fill="#fff" stroke="#1a1a1a" stroke-width="1.6"/>
<circle cx="325.67" cy="589.60" r="4.0" fill="#fff" stroke="#1a1a1a" stroke-width="1.6"/>
<circle cx="331.00" cy="594.27" r="4.0" fill="#fff" stroke="#1a1a1a" stroke-width="1.6"/>
<circle cx="336.33" cy="585.87" r="4.0" fill="#fff" stroke="#1a1a1a" stroke-width="1.6"/>
<circle cx="341.67" cy="587.73" r="4.0" fill="#fff" stroke="#1a1a1a" stroke-width="1.6"/>
<circle cx="347.00" cy="602.30" r="4.0" fill="#fff" stroke="#1a1a1a" stroke-width="1.6"/>
<circle cx="352.33" cy="611.63" r="4.0" fill="#fff" stroke="#1a1a1a" stroke-width="1.6"/>
<circle cx="357.67" cy="601.73" r="4.0" fill="#fff" stroke="#1a1a1a" stroke-width="1.6"/>
<circle cx="363.00" cy="606.40" r="4.0" fill="#fff" stroke="#1a1a1a" stroke-width="1.6"/>
<circle cx="368.33" cy="601.73" r="4.0" fill="#fff" stroke="#1a1a1a" stroke-width="1.6"/>
<circle cx="373.67" cy="616.67" r="4.0" fill="#fff" stroke="#1a1a1a" stroke-width="1.6"/>
<circle cx="379.00" cy="596.14" r="4.0" fill="#fff" stroke="#1a1a1a" stroke-width="1.6"/>
<path d="M128.33 532.67 L133.67 543.86 L139.00 557.87 L144.33 565.33 L149.67 573.74 L155.00 578.77 L160.33 571.87 L165.67 583.63 L171.00 573.74 L176.33 578.77 L181.67 582.14 L187.00 581.76 L192.33 546.67 L197.67 542.56 L203.00 538.26 L208.33 538.26 L213.67 546.29 L219.00 546.67 L224.33 549.10 L229.67 556.93 L235.00 561.60 L240.33 554.13 L245.67 559.74 L251.00 554.50 L256.33 560.11 L261.67 564.40 L267.00 583.63 L272.33 569.07 L277.67 564.96 L283.00 580.27 L288.33 570.00 L293.67 574.29 L299.00 576.53 L304.33 566.83 L309.67 571.30 L315.00 575.04 L320.33 576.16 L325.67 590.54 L331.00 598.93 L336.33 584.00 L341.67 575.04 L347.00 592.96 L352.33 589.23 L357.67 593.33 L363.00 610.13 L368.33 593.33 L373.67 586.80 L379.00 582.51" fill="none" stroke="#1a1a1a" stroke-width="1.25"/>
<path d="M128.33 532.67V522.40M133.67 543.86V529.86M139.00 557.87V546.66M144.33 565.33V556.00M149.67 573.74V564.40M155.00 578.77V569.07M160.33 571.87V563.47M165.67 583.63V574.66M171.00 573.74V563.47M176.33 578.77V570.93M181.67 582.14V574.67M187.00 581.76V574.66M192.33 546.67V534.54M197.67 542.56V533.60M203.00 538.26V529.86M208.33 538.26V526.13M213.67 546.29V537.33M219.00 546.67V537.34M224.33 549.10V537.34M229.67 556.93V546.66M235.00 561.60V552.26M240.33 554.13V544.80M245.67 559.74V544.80M251.00 554.50V544.80M256.33 560.11V550.40M261.67 564.40V552.27M272.33 569.07V556.00M277.67 564.96V555.62M288.33 570.00V560.11M293.67 574.29V560.66M299.00 576.53V565.33M304.33 566.83V555.62M309.67 571.30V559.73M315.00 575.04V564.40M320.33 576.16V565.34M325.67 590.54V582.14M336.33 584.00V576.53M341.67 575.04V564.40M352.33 589.23V576.91M357.67 593.33V584.93M368.33 593.33V582.13M373.67 586.80V575.60M379.00 582.51V574.29" fill="none" stroke="#111" stroke-width="1.4"/>
<path d="M123.63 522.40H133.03M128.97 529.86H138.37M134.30 546.66H143.70M139.63 556.00H149.03M144.97 564.40H154.37M150.30 569.07H159.70M155.63 563.47H165.03M160.97 574.66H170.37M166.30 563.47H175.70M171.63 570.93H181.03M176.97 574.67H186.37M182.30 574.66H191.70M187.63 534.54H197.03M192.97 533.60H202.37M198.30 529.86H207.70M203.63 526.13H213.03M208.97 537.33H218.37M214.30 537.34H223.70M219.63 537.34H229.03M224.97 546.66H234.37M230.30 552.26H239.70M235.63 544.80H245.03M240.97 544.80H250.37M246.30 544.80H255.70M251.63 550.40H261.03M256.97 552.27H266.37M267.63 556.00H277.03M272.97 555.62H282.37M283.63 560.11H293.03M288.97 560.66H298.37M294.30 565.33H303.70M299.63 555.62H309.03M304.97 559.73H314.37M310.30 564.40H319.70M315.63 565.34H325.03M320.97 582.14H330.37M331.63 576.53H341.03M336.97 564.40H346.37M347.63 576.91H357.03M352.97 584.93H362.37M363.63 582.13H373.03M368.97 575.60H378.37M374.30 574.29H383.70" fill="none" stroke="#111" stroke-width="1.5"/>
<circle cx="128.33" cy="532.67" r="4.0" fill="#787878" stroke="#1a1a1a" stroke-width="1.6"/>
<circle cx="133.67" cy="543.86" r="4.0" fill="#787878" stroke="#1a1a1a" stroke-width="1.6"/>
<circle cx="139.00" cy="557.87" r="4.0" fill="#787878" stroke="#1a1a1a" stroke-width="1.6"/>
<circle cx="144.33" cy="565.33" r="4.0" fill="#787878" stroke="#1a1a1a" stroke-width="1.6"/>
<circle cx="149.67" cy="573.74" r="4.0" fill="#787878" stroke="#1a1a1a" stroke-width="1.6"/>
<circle cx="155.00" cy="578.77" r="4.0" fill="#787878" stroke="#1a1a1a" stroke-width="1.6"/>
<circle cx="160.33" cy="571.87" r="4.0" fill="#787878" stroke="#1a1a1a" stroke-width="1.6"/>
<circle cx="165.67" cy="583.63" r="4.0" fill="#787878" stroke="#1a1a1a" stroke-width="1.6"/>
<circle cx="171.00" cy="573.74" r="4.0" fill="#787878" stroke="#1a1a1a" stroke-width="1.6"/>
<circle cx="176.33" cy="578.77" r="4.0" fill="#787878" stroke="#1a1a1a" stroke-width="1.6"/>
<circle cx="181.67" cy="582.14" r="4.0" fill="#787878" stroke="#1a1a1a" stroke-width="1.6"/>
<circle cx="187.00" cy="581.76" r="4.0" fill="#787878" stroke="#1a1a1a" stroke-width="1.6"/>
<circle cx="192.33" cy="546.67" r="4.0" fill="#787878" stroke="#1a1a1a" stroke-width="1.6"/>
<circle cx="197.67" cy="542.56" r="4.0" fill="#787878" stroke="#1a1a1a" stroke-width="1.6"/>
<circle cx="203.00" cy="538.26" r="4.0" fill="#787878" stroke="#1a1a1a" stroke-width="1.6"/>
<circle cx="208.33" cy="538.26" r="4.0" fill="#787878" stroke="#1a1a1a" stroke-width="1.6"/>
<circle cx="213.67" cy="546.29" r="4.0" fill="#787878" stroke="#1a1a1a" stroke-width="1.6"/>
<circle cx="219.00" cy="546.67" r="4.0" fill="#787878" stroke="#1a1a1a" stroke-width="1.6"/>
<circle cx="224.33" cy="549.10" r="4.0" fill="#787878" stroke="#1a1a1a" stroke-width="1.6"/>
<circle cx="229.67" cy="556.93" r="4.0" fill="#787878" stroke="#1a1a1a" stroke-width="1.6"/>
<circle cx="235.00" cy="561.60" r="4.0" fill="#787878" stroke="#1a1a1a" stroke-width="1.6"/>
<circle cx="240.33" cy="554.13" r="4.0" fill="#787878" stroke="#1a1a1a" stroke-width="1.6"/>
<circle cx="245.67" cy="559.74" r="4.0" fill="#787878" stroke="#1a1a1a" stroke-width="1.6"/>
<circle cx="251.00" cy="554.50" r="4.0" fill="#787878" stroke="#1a1a1a" stroke-width="1.6"/>
<circle cx="256.33" cy="560.11" r="4.0" fill="#787878" stroke="#1a1a1a" stroke-width="1.6"/>
<circle cx="261.67" cy="564.40" r="4.0" fill="#787878" stroke="#1a1a1a" stroke-width="1.6"/>
<circle cx="267.00" cy="583.63" r="4.0" fill="#787878" stroke="#1a1a1a" stroke-width="1.6"/>
<circle cx="272.33" cy="569.07" r="4.0" fill="#787878" stroke="#1a1a1a" stroke-width="1.6"/>
<circle cx="277.67" cy="564.96" r="4.0" fill="#787878" stroke="#1a1a1a" stroke-width="1.6"/>
<circle cx="283.00" cy="580.27" r="4.0" fill="#787878" stroke="#1a1a1a" stroke-width="1.6"/>
<circle cx="288.33" cy="570.00" r="4.0" fill="#787878" stroke="#1a1a1a" stroke-width="1.6"/>
<circle cx="293.67" cy="574.29" r="4.0" fill="#787878" stroke="#1a1a1a" stroke-width="1.6"/>
<circle cx="299.00" cy="576.53" r="4.0" fill="#787878" stroke="#1a1a1a" stroke-width="1.6"/>
<circle cx="304.33" cy="566.83" r="4.0" fill="#787878" stroke="#1a1a1a" stroke-width="1.6"/>
<circle cx="309.67" cy="571.30" r="4.0" fill="#787878" stroke="#1a1a1a" stroke-width="1.6"/>
<circle cx="315.00" cy="575.04" r="4.0" fill="#787878" stroke="#1a1a1a" stroke-width="1.6"/>
<circle cx="320.33" cy="576.16" r="4.0" fill="#787878" stroke="#1a1a1a" stroke-width="1.6"/>
<circle cx="325.67" cy="590.54" r="4.0" fill="#787878" stroke="#1a1a1a" stroke-width="1.6"/>
<circle cx="331.00" cy="598.93" r="4.0" fill="#787878" stroke="#1a1a1a" stroke-width="1.6"/>
<circle cx="336.33" cy="584.00" r="4.0" fill="#787878" stroke="#1a1a1a" stroke-width="1.6"/>
<circle cx="341.67" cy="575.04" r="4.0" fill="#787878" stroke="#1a1a1a" stroke-width="1.6"/>
<circle cx="347.00" cy="592.96" r="4.0" fill="#787878" stroke="#1a1a1a" stroke-width="1.6"/>
<circle cx="352.33" cy="589.23" r="4.0" fill="#787878" stroke="#1a1a1a" stroke-width="1.6"/>
<circle cx="357.67" cy="593.33" r="4.0" fill="#787878" stroke="#1a1a1a" stroke-width="1.6"/>
<circle cx="363.00" cy="610.13" r="4.0" fill="#787878" stroke="#1a1a1a" stroke-width="1.6"/>
<circle cx="368.33" cy="593.33" r="4.0" fill="#787878" stroke="#1a1a1a" stroke-width="1.6"/>
<circle cx="373.67" cy="586.80" r="4.0" fill="#787878" stroke="#1a1a1a" stroke-width="1.6"/>
<circle cx="379.00" cy="582.51" r="4.0" fill="#787878" stroke="#1a1a1a" stroke-width="1.6"/>
<line x1="187.00" y1="359.10" x2="187.00" y2="636.90" stroke="#000" stroke-width="2.3" stroke-dasharray="4.5 2.18" stroke-dashoffset="1.2"/>
<path d="M422.60 359.10H706.00V636.90H422.60M428.60 359.10V636.90" fill="none" stroke="#1a1a1a" stroke-width="1.6"/>
<line x1="422.60" y1="590.60" x2="428.60" y2="590.60" stroke="#1a1a1a" stroke-width="1.6"/>
<line x1="422.60" y1="544.30" x2="428.60" y2="544.30" stroke="#1a1a1a" stroke-width="1.6"/>
<line x1="422.60" y1="498.00" x2="428.60" y2="498.00" stroke="#1a1a1a" stroke-width="1.6"/>
<line x1="422.60" y1="451.70" x2="428.60" y2="451.70" stroke="#1a1a1a" stroke-width="1.6"/>
<line x1="422.60" y1="405.40" x2="428.60" y2="405.40" stroke="#1a1a1a" stroke-width="1.6"/>
<line x1="439.20" y1="636.90" x2="439.20" y2="642.90" stroke="#1a1a1a" stroke-width="1.6"/>
<line x1="471.20" y1="636.90" x2="471.20" y2="642.90" stroke="#1a1a1a" stroke-width="1.6"/>
<line x1="503.20" y1="636.90" x2="503.20" y2="642.90" stroke="#1a1a1a" stroke-width="1.6"/>
<line x1="535.20" y1="636.90" x2="535.20" y2="642.90" stroke="#1a1a1a" stroke-width="1.6"/>
<line x1="567.20" y1="636.90" x2="567.20" y2="642.90" stroke="#1a1a1a" stroke-width="1.6"/>
<line x1="599.20" y1="636.90" x2="599.20" y2="642.90" stroke="#1a1a1a" stroke-width="1.6"/>
<line x1="631.20" y1="636.90" x2="631.20" y2="642.90" stroke="#1a1a1a" stroke-width="1.6"/>
<line x1="663.20" y1="636.90" x2="663.20" y2="642.90" stroke="#1a1a1a" stroke-width="1.6"/>
<line x1="695.20" y1="636.90" x2="695.20" y2="642.90" stroke="#1a1a1a" stroke-width="1.6"/>
<text x="436.4" y="380.4" font-size="22" font-weight="bold">d</text>
<path d="M444.53 540.13 L449.87 555.62 L455.20 564.40 L460.53 575.60 L465.87 584.00 L471.20 584.93 L476.53 587.73 L481.87 598.93 L487.20 595.20 L492.53 596.69 L497.87 592.40 L503.20 598.93 L508.53 570.56 L513.87 584.93 L519.20 576.53 L524.53 580.27 L529.87 592.40 L535.20 596.14 L540.53 591.47 L545.87 596.14 L551.20 589.97 L556.53 597.06 L561.87 597.44 L567.20 598.93 L572.53 597.06 L577.87 598.00 L583.20 598.56 L588.53 600.80 L593.87 594.27 L599.20 601.17 L604.53 600.80 L609.87 602.67 L615.20 606.03 L620.53 609.20 L625.87 594.82 L631.20 592.40 L636.53 601.73 L641.87 603.60 L647.20 596.14 L652.53 589.23 L657.87 591.47 L663.20 598.93 L668.53 600.80 L673.87 598.00 L679.20 602.67 L684.53 595.57 L689.87 600.80 L695.20 594.27" fill="none" stroke="#1a1a1a" stroke-width="1.25"/>
<path d="M444.53 540.13V545.74M449.87 555.62V561.60M455.20 564.40V570.94M460.53 575.60V584.93M465.87 584.00V591.09M471.20 584.93V592.40M476.53 587.73V597.06M481.87 598.93V606.78M487.20 595.20V602.67M492.53 596.69V605.46M497.87 592.40V598.93M503.20 598.93V607.33M508.53 570.56V578.40M513.87 584.93V596.14M519.20 576.53V584.00M524.53 580.27V586.80M529.87 592.40V599.86M535.20 596.14V604.54M540.53 591.47V598.93M545.87 596.14V602.68M551.20 589.97V597.06M556.53 597.06V603.60M561.87 597.44V603.60M567.20 598.93V604.54M572.53 597.06V607.33M577.87 598.00V607.33M583.20 598.56V607.33M588.53 600.80V607.34M599.20 601.17V607.33M604.53 600.80V610.14M609.87 602.67V608.27M615.20 606.03V610.13M620.53 609.20V617.97M625.87 594.82V602.67M631.20 592.40V601.73M636.53 601.73V608.27M641.87 603.60V610.51M647.20 596.14V606.41M652.53 589.23V597.07M657.87 591.47V601.74M663.20 598.93V606.40M668.53 600.80V608.27M679.20 602.67V610.51M689.87 600.80V608.27M695.20 594.27V603.60" fill="none" stroke="#111" stroke-width="1.4"/>
<path d="M439.83 545.74H449.23M445.17 561.60H454.57M450.50 570.94H459.90M455.83 584.93H465.23M461.17 591.09H470.57M466.50 592.40H475.90M471.83 597.06H481.23M477.17 606.78H486.57M482.50 602.67H491.90M487.83 605.46H497.23M493.17 598.93H502.57M498.50 607.33H507.90M503.83 578.40H513.23M509.17 596.14H518.57M514.50 584.00H523.90M519.83 586.80H529.23M525.17 599.86H534.57M530.50 604.54H539.90M535.83 598.93H545.23M541.17 602.68H550.57M546.50 597.06H555.90M551.83 603.60H561.23M557.17 603.60H566.57M562.50 604.54H571.90M567.83 607.33H577.23M573.17 607.33H582.57M578.50 607.33H587.90M583.83 607.34H593.23M594.50 607.33H603.90M599.83 610.14H609.23M605.17 608.27H614.57M610.50 610.13H619.90M615.83 617.97H625.23M621.17 602.67H630.57M626.50 601.73H635.90M631.83 608.27H641.23M637.17 610.51H646.57M642.50 606.41H651.90M647.83 597.07H657.23M653.17 601.74H662.57M658.50 606.40H667.90M663.83 608.27H673.23M674.50 610.51H683.90M685.17 608.27H694.57M690.50 603.60H699.90" fill="none" stroke="#111" stroke-width="1.5"/>
<circle cx="444.53" cy="540.13" r="4.0" fill="#fff" stroke="#1a1a1a" stroke-width="1.6"/>
<circle cx="449.87" cy="555.62" r="4.0" fill="#fff" stroke="#1a1a1a" stroke-width="1.6"/>
<circle cx="455.20" cy="564.40" r="4.0" fill="#fff" stroke="#1a1a1a" stroke-width="1.6"/>
<circle cx="460.53" cy="575.60" r="4.0" fill="#fff" stroke="#1a1a1a" stroke-width="1.6"/>
<circle cx="465.87" cy="584.00" r="4.0" fill="#fff" stroke="#1a1a1a" stroke-width="1.6"/>
<circle cx="471.20" cy="584.93" r="4.0" fill="#fff" stroke="#1a1a1a" stroke-width="1.6"/>
<circle cx="476.53" cy="587.73" r="4.0" fill="#fff" stroke="#1a1a1a" stroke-width="1.6"/>
<circle cx="481.87" cy="598.93" r="4.0" fill="#fff" stroke="#1a1a1a" stroke-width="1.6"/>
<circle cx="487.20" cy="595.20" r="4.0" fill="#fff" stroke="#1a1a1a" stroke-width="1.6"/>
<circle cx="492.53" cy="596.69" r="4.0" fill="#fff" stroke="#1a1a1a" stroke-width="1.6"/>
<circle cx="497.87" cy="592.40" r="4.0" fill="#fff" stroke="#1a1a1a" stroke-width="1.6"/>
<circle cx="503.20" cy="598.93" r="4.0" fill="#fff" stroke="#1a1a1a" stroke-width="1.6"/>
<circle cx="508.53" cy="570.56" r="4.0" fill="#fff" stroke="#1a1a1a" stroke-width="1.6"/>
<circle cx="513.87" cy="584.93" r="4.0" fill="#fff" stroke="#1a1a1a" stroke-width="1.6"/>
<circle cx="519.20" cy="576.53" r="4.0" fill="#fff" stroke="#1a1a1a" stroke-width="1.6"/>
<circle cx="524.53" cy="580.27" r="4.0" fill="#fff" stroke="#1a1a1a" stroke-width="1.6"/>
<circle cx="529.87" cy="592.40" r="4.0" fill="#fff" stroke="#1a1a1a" stroke-width="1.6"/>
<circle cx="535.20" cy="596.14" r="4.0" fill="#fff" stroke="#1a1a1a" stroke-width="1.6"/>
<circle cx="540.53" cy="591.47" r="4.0" fill="#fff" stroke="#1a1a1a" stroke-width="1.6"/>
<circle cx="545.87" cy="596.14" r="4.0" fill="#fff" stroke="#1a1a1a" stroke-width="1.6"/>
<circle cx="551.20" cy="589.97" r="4.0" fill="#fff" stroke="#1a1a1a" stroke-width="1.6"/>
<circle cx="556.53" cy="597.06" r="4.0" fill="#fff" stroke="#1a1a1a" stroke-width="1.6"/>
<circle cx="561.87" cy="597.44" r="4.0" fill="#fff" stroke="#1a1a1a" stroke-width="1.6"/>
<circle cx="567.20" cy="598.93" r="4.0" fill="#fff" stroke="#1a1a1a" stroke-width="1.6"/>
<circle cx="572.53" cy="597.06" r="4.0" fill="#fff" stroke="#1a1a1a" stroke-width="1.6"/>
<circle cx="577.87" cy="598.00" r="4.0" fill="#fff" stroke="#1a1a1a" stroke-width="1.6"/>
<circle cx="583.20" cy="598.56" r="4.0" fill="#fff" stroke="#1a1a1a" stroke-width="1.6"/>
<circle cx="588.53" cy="600.80" r="4.0" fill="#fff" stroke="#1a1a1a" stroke-width="1.6"/>
<circle cx="593.87" cy="594.27" r="4.0" fill="#fff" stroke="#1a1a1a" stroke-width="1.6"/>
<circle cx="599.20" cy="601.17" r="4.0" fill="#fff" stroke="#1a1a1a" stroke-width="1.6"/>
<circle cx="604.53" cy="600.80" r="4.0" fill="#fff" stroke="#1a1a1a" stroke-width="1.6"/>
<circle cx="609.87" cy="602.67" r="4.0" fill="#fff" stroke="#1a1a1a" stroke-width="1.6"/>
<circle cx="615.20" cy="606.03" r="4.0" fill="#fff" stroke="#1a1a1a" stroke-width="1.6"/>
<circle cx="620.53" cy="609.20" r="4.0" fill="#fff" stroke="#1a1a1a" stroke-width="1.6"/>
<circle cx="625.87" cy="594.82" r="4.0" fill="#fff" stroke="#1a1a1a" stroke-width="1.6"/>
<circle cx="631.20" cy="592.40" r="4.0" fill="#fff" stroke="#1a1a1a" stroke-width="1.6"/>
<circle cx="636.53" cy="601.73" r="4.0" fill="#fff" stroke="#1a1a1a" stroke-width="1.6"/>
<circle cx="641.87" cy="603.60" r="4.0" fill="#fff" stroke="#1a1a1a" stroke-width="1.6"/>
<circle cx="647.20" cy="596.14" r="4.0" fill="#fff" stroke="#1a1a1a" stroke-width="1.6"/>
<circle cx="652.53" cy="589.23" r="4.0" fill="#fff" stroke="#1a1a1a" stroke-width="1.6"/>
<circle cx="657.87" cy="591.47" r="4.0" fill="#fff" stroke="#1a1a1a" stroke-width="1.6"/>
<circle cx="663.20" cy="598.93" r="4.0" fill="#fff" stroke="#1a1a1a" stroke-width="1.6"/>
<circle cx="668.53" cy="600.80" r="4.0" fill="#fff" stroke="#1a1a1a" stroke-width="1.6"/>
<circle cx="673.87" cy="598.00" r="4.0" fill="#fff" stroke="#1a1a1a" stroke-width="1.6"/>
<circle cx="679.20" cy="602.67" r="4.0" fill="#fff" stroke="#1a1a1a" stroke-width="1.6"/>
<circle cx="684.53" cy="595.57" r="4.0" fill="#fff" stroke="#1a1a1a" stroke-width="1.6"/>
<circle cx="689.87" cy="600.80" r="4.0" fill="#fff" stroke="#1a1a1a" stroke-width="1.6"/>
<circle cx="695.20" cy="594.27" r="4.0" fill="#fff" stroke="#1a1a1a" stroke-width="1.6"/>
<path d="M444.53 539.20 L449.87 560.66 L455.20 567.57 L460.53 570.00 L465.87 574.66 L471.20 578.77 L476.53 579.90 L481.87 582.14 L487.20 582.51 L492.53 579.33 L497.87 575.60 L503.20 587.36 L508.53 548.16 L513.87 548.90 L519.20 545.74 L524.53 550.40 L529.87 545.17 L535.20 549.47 L540.53 552.26 L545.87 550.40 L551.20 548.90 L556.53 548.16 L561.87 550.77 L567.20 559.36 L572.53 561.60 L577.87 566.26 L583.20 563.47 L588.53 569.07 L593.87 576.16 L599.20 570.00 L604.53 574.66 L609.87 575.60 L615.20 580.64 L620.53 582.14 L625.87 573.17 L631.20 570.93 L636.53 579.33 L641.87 583.06 L647.20 578.40 L652.53 579.33 L657.87 582.51 L663.20 594.27 L668.53 581.20 L673.87 589.60 L679.20 589.23 L684.53 582.14 L689.87 575.04 L695.20 591.84" fill="none" stroke="#1a1a1a" stroke-width="1.25"/>
<path d="M444.53 539.20V533.60M449.87 560.66V555.06M455.20 567.57V561.60M460.53 570.00V564.39M465.87 574.66V567.20M471.20 578.77V572.80M476.53 579.90V571.87M481.87 582.14V571.87M487.20 582.51V574.66M492.53 579.33V570.00M497.87 575.60V569.06M503.20 587.36V578.40M508.53 548.16V537.34M513.87 548.90V537.33M519.20 545.74V535.47M524.53 550.40V538.27M529.87 545.17V533.60M535.20 549.47V537.34M540.53 552.26V539.20M545.87 550.40V537.34M551.20 548.90V536.39M556.53 548.16V533.60M561.87 550.77V539.20M567.20 559.36V546.66M572.53 561.60V546.66M577.87 566.26V552.26M583.20 563.47V552.26M588.53 569.07V558.80M593.87 576.16V565.34M599.20 570.00V558.79M604.53 574.66V565.33M609.87 575.60V568.69M615.20 580.64V572.79M620.53 582.14V573.74M625.87 573.17V565.33M631.20 570.93V560.66M636.53 579.33V569.06M641.87 583.06V574.66M647.20 578.40V570.94M652.53 579.33V571.87M657.87 582.51V573.74M663.20 594.27V585.87M668.53 581.20V570.93M673.87 589.60V580.27M679.20 589.23V578.40M684.53 582.14V571.87M689.87 575.04V564.40M695.20 591.84V583.07" fill="none" stroke="#111" stroke-width="1.4"/>
<path d="M439.83 533.60H449.23M445.17 555.06H454.57M450.50 561.60H459.90M455.83 564.39H465.23M461.17 567.20H470.57M466.50 572.80H475.90M471.83 571.87H481.23M477.17 571.87H486.57M482.50 574.66H491.90M487.83 570.00H497.23M493.17 569.06H502.57M498.50 578.40H507.90M503.83 537.34H513.23M509.17 537.33H518.57M514.50 535.47H523.90M519.83 538.27H529.23M525.17 533.60H534.57M530.50 537.34H539.90M535.83 539.20H545.23M541.17 537.34H550.57M546.50 536.39H555.90M551.83 533.60H561.23M557.17 539.20H566.57M562.50 546.66H571.90M567.83 546.66H577.23M573.17 552.26H582.57M578.50 552.26H587.90M583.83 558.80H593.23M589.17 565.34H598.57M594.50 558.79H603.90M599.83 565.33H609.23M605.17 568.69H614.57M610.50 572.79H619.90M615.83 573.74H625.23M621.17 565.33H630.57M626.50 560.66H635.90M631.83 569.06H641.23M637.17 574.66H646.57M642.50 570.94H651.90M647.83 571.87H657.23M653.17 573.74H662.57M658.50 585.87H667.90M663.83 570.93H673.23M669.17 580.27H678.57M674.50 578.40H683.90M679.83 571.87H689.23M685.17 564.40H694.57M690.50 583.07H699.90" fill="none" stroke="#111" stroke-width="1.5"/>
<circle cx="444.53" cy="539.20" r="4.0" fill="#787878" stroke="#1a1a1a" stroke-width="1.6"/>
<circle cx="449.87" cy="560.66" r="4.0" fill="#787878" stroke="#1a1a1a" stroke-width="1.6"/>
<circle cx="455.20" cy="567.57" r="4.0" fill="#787878" stroke="#1a1a1a" stroke-width="1.6"/>
<circle cx="460.53" cy="570.00" r="4.0" fill="#787878" stroke="#1a1a1a" stroke-width="1.6"/>
<circle cx="465.87" cy="574.66" r="4.0" fill="#787878" stroke="#1a1a1a" stroke-width="1.6"/>
<circle cx="471.20" cy="578.77" r="4.0" fill="#787878" stroke="#1a1a1a" stroke-width="1.6"/>
<circle cx="476.53" cy="579.90" r="4.0" fill="#787878" stroke="#1a1a1a" stroke-width="1.6"/>
<circle cx="481.87" cy="582.14" r="4.0" fill="#787878" stroke="#1a1a1a" stroke-width="1.6"/>
<circle cx="487.20" cy="582.51" r="4.0" fill="#787878" stroke="#1a1a1a" stroke-width="1.6"/>
<circle cx="492.53" cy="579.33" r="4.0" fill="#787878" stroke="#1a1a1a" stroke-width="1.6"/>
<circle cx="497.87" cy="575.60" r="4.0" fill="#787878" stroke="#1a1a1a" stroke-width="1.6"/>
<circle cx="503.20" cy="587.36" r="4.0" fill="#787878" stroke="#1a1a1a" stroke-width="1.6"/>
<circle cx="508.53" cy="548.16" r="4.0" fill="#787878" stroke="#1a1a1a" stroke-width="1.6"/>
<circle cx="513.87" cy="548.90" r="4.0" fill="#787878" stroke="#1a1a1a" stroke-width="1.6"/>
<circle cx="519.20" cy="545.74" r="4.0" fill="#787878" stroke="#1a1a1a" stroke-width="1.6"/>
<circle cx="524.53" cy="550.40" r="4.0" fill="#787878" stroke="#1a1a1a" stroke-width="1.6"/>
<circle cx="529.87" cy="545.17" r="4.0" fill="#787878" stroke="#1a1a1a" stroke-width="1.6"/>
<circle cx="535.20" cy="549.47" r="4.0" fill="#787878" stroke="#1a1a1a" stroke-width="1.6"/>
<circle cx="540.53" cy="552.26" r="4.0" fill="#787878" stroke="#1a1a1a" stroke-width="1.6"/>
<circle cx="545.87" cy="550.40" r="4.0" fill="#787878" stroke="#1a1a1a" stroke-width="1.6"/>
<circle cx="551.20" cy="548.90" r="4.0" fill="#787878" stroke="#1a1a1a" stroke-width="1.6"/>
<circle cx="556.53" cy="548.16" r="4.0" fill="#787878" stroke="#1a1a1a" stroke-width="1.6"/>
<circle cx="561.87" cy="550.77" r="4.0" fill="#787878" stroke="#1a1a1a" stroke-width="1.6"/>
<circle cx="567.20" cy="559.36" r="4.0" fill="#787878" stroke="#1a1a1a" stroke-width="1.6"/>
<circle cx="572.53" cy="561.60" r="4.0" fill="#787878" stroke="#1a1a1a" stroke-width="1.6"/>
<circle cx="577.87" cy="566.26" r="4.0" fill="#787878" stroke="#1a1a1a" stroke-width="1.6"/>
<circle cx="583.20" cy="563.47" r="4.0" fill="#787878" stroke="#1a1a1a" stroke-width="1.6"/>
<circle cx="588.53" cy="569.07" r="4.0" fill="#787878" stroke="#1a1a1a" stroke-width="1.6"/>
<circle cx="593.87" cy="576.16" r="4.0" fill="#787878" stroke="#1a1a1a" stroke-width="1.6"/>
<circle cx="599.20" cy="570.00" r="4.0" fill="#787878" stroke="#1a1a1a" stroke-width="1.6"/>
<circle cx="604.53" cy="574.66" r="4.0" fill="#787878" stroke="#1a1a1a" stroke-width="1.6"/>
<circle cx="609.87" cy="575.60" r="4.0" fill="#787878" stroke="#1a1a1a" stroke-width="1.6"/>
<circle cx="615.20" cy="580.64" r="4.0" fill="#787878" stroke="#1a1a1a" stroke-width="1.6"/>
<circle cx="620.53" cy="582.14" r="4.0" fill="#787878" stroke="#1a1a1a" stroke-width="1.6"/>
<circle cx="625.87" cy="573.17" r="4.0" fill="#787878" stroke="#1a1a1a" stroke-width="1.6"/>
<circle cx="631.20" cy="570.93" r="4.0" fill="#787878" stroke="#1a1a1a" stroke-width="1.6"/>
<circle cx="636.53" cy="579.33" r="4.0" fill="#787878" stroke="#1a1a1a" stroke-width="1.6"/>
<circle cx="641.87" cy="583.06" r="4.0" fill="#787878" stroke="#1a1a1a" stroke-width="1.6"/>
<circle cx="647.20" cy="578.40" r="4.0" fill="#787878" stroke="#1a1a1a" stroke-width="1.6"/>
<circle cx="652.53" cy="579.33" r="4.0" fill="#787878" stroke="#1a1a1a" stroke-width="1.6"/>
<circle cx="657.87" cy="582.51" r="4.0" fill="#787878" stroke="#1a1a1a" stroke-width="1.6"/>
<circle cx="663.20" cy="594.27" r="4.0" fill="#787878" stroke="#1a1a1a" stroke-width="1.6"/>
<circle cx="668.53" cy="581.20" r="4.0" fill="#787878" stroke="#1a1a1a" stroke-width="1.6"/>
<circle cx="673.87" cy="589.60" r="4.0" fill="#787878" stroke="#1a1a1a" stroke-width="1.6"/>
<circle cx="679.20" cy="589.23" r="4.0" fill="#787878" stroke="#1a1a1a" stroke-width="1.6"/>
<circle cx="684.53" cy="582.14" r="4.0" fill="#787878" stroke="#1a1a1a" stroke-width="1.6"/>
<circle cx="689.87" cy="575.04" r="4.0" fill="#787878" stroke="#1a1a1a" stroke-width="1.6"/>
<circle cx="695.20" cy="591.84" r="4.0" fill="#787878" stroke="#1a1a1a" stroke-width="1.6"/>
<line x1="503.20" y1="359.10" x2="503.20" y2="636.90" stroke="#000" stroke-width="2.3" stroke-dasharray="4.5 2.18" stroke-dashoffset="1.2"/>
<path d="M106.00 677.80H390.00V955.90H106.00M112.00 677.80V955.90" fill="none" stroke="#1a1a1a" stroke-width="1.6"/>
<line x1="106.00" y1="909.55" x2="112.00" y2="909.55" stroke="#1a1a1a" stroke-width="1.6"/>
<line x1="106.00" y1="863.20" x2="112.00" y2="863.20" stroke="#1a1a1a" stroke-width="1.6"/>
<line x1="106.00" y1="816.85" x2="112.00" y2="816.85" stroke="#1a1a1a" stroke-width="1.6"/>
<line x1="106.00" y1="770.50" x2="112.00" y2="770.50" stroke="#1a1a1a" stroke-width="1.6"/>
<line x1="106.00" y1="724.15" x2="112.00" y2="724.15" stroke="#1a1a1a" stroke-width="1.6"/>
<line x1="123.00" y1="955.90" x2="123.00" y2="961.90" stroke="#1a1a1a" stroke-width="1.6"/>
<line x1="155.00" y1="955.90" x2="155.00" y2="961.90" stroke="#1a1a1a" stroke-width="1.6"/>
<line x1="187.00" y1="955.90" x2="187.00" y2="961.90" stroke="#1a1a1a" stroke-width="1.6"/>
<line x1="219.00" y1="955.90" x2="219.00" y2="961.90" stroke="#1a1a1a" stroke-width="1.6"/>
<line x1="251.00" y1="955.90" x2="251.00" y2="961.90" stroke="#1a1a1a" stroke-width="1.6"/>
<line x1="283.00" y1="955.90" x2="283.00" y2="961.90" stroke="#1a1a1a" stroke-width="1.6"/>
<line x1="315.00" y1="955.90" x2="315.00" y2="961.90" stroke="#1a1a1a" stroke-width="1.6"/>
<line x1="347.00" y1="955.90" x2="347.00" y2="961.90" stroke="#1a1a1a" stroke-width="1.6"/>
<line x1="379.00" y1="955.90" x2="379.00" y2="961.90" stroke="#1a1a1a" stroke-width="1.6"/>
<text x="117.0" y="698.8" font-size="22" font-weight="bold">e</text>
<text x="96.7" y="962.10" font-size="16.3" text-anchor="end">0</text>
<text x="96.7" y="915.75" font-size="16.3" text-anchor="end">500</text>
<text x="96.7" y="869.40" font-size="16.3" text-anchor="end">1000</text>
<text x="96.7" y="823.05" font-size="16.3" text-anchor="end">1500</text>
<text x="96.7" y="776.70" font-size="16.3" text-anchor="end">2000</text>
<text x="96.7" y="730.35" font-size="16.3" text-anchor="end">2500</text>
<text x="96.7" y="684.00" font-size="16.3" text-anchor="end">3000</text>
<path d="M128.33 830.00 L133.67 853.34 L139.00 863.60 L144.33 873.87 L149.67 872.00 L155.00 882.27 L160.33 886.93 L165.67 888.80 L171.00 894.40 L176.33 896.27 L181.67 901.87 L187.00 905.60 L192.33 867.33 L197.67 872.93 L203.00 875.73 L208.33 875.73 L213.67 858.00 L219.00 850.54 L224.33 842.13 L229.67 826.27 L235.00 827.20 L240.33 828.13 L245.67 829.07 L251.00 806.66 L256.33 807.60 L261.67 810.40 L267.00 817.87 L272.33 816.00 L277.67 825.33 L283.00 832.80 L288.33 824.96 L293.67 834.67 L299.00 840.27 L304.33 841.20 L309.67 857.06 L315.00 870.13 L320.33 867.89 L325.67 872.93 L331.00 879.47 L336.33 881.33 L341.67 888.80 L347.00 883.20 L352.33 883.20 L357.67 880.40 L363.00 883.20 L368.33 894.40 L373.67 909.34 L379.00 910.26" fill="none" stroke="#1a1a1a" stroke-width="1.25"/>
<path d="M128.33 830.00V837.47M133.67 853.34V861.74M139.00 863.60V872.00M144.33 873.87V881.33M149.67 872.00V881.33M155.00 882.27V890.67M160.33 886.93V894.39M165.67 888.80V896.27M171.00 894.40V901.87M176.33 896.27V903.73M181.67 901.87V909.33M187.00 905.60V915.87M192.33 867.33V881.33M197.67 872.93V883.20M203.00 875.73V886.93M208.33 875.73V884.13M213.67 858.00V871.07M219.00 850.54V862.67M224.33 842.13V857.06M229.67 826.27V848.66M235.00 827.20V848.67M240.33 828.13V847.73M245.67 829.07V838.40M251.00 806.66V821.60M256.33 807.60V823.47M261.67 810.40V830.93M267.00 817.87V834.67M272.33 816.00V834.67M277.67 825.33V844.00M283.00 832.80V851.47M288.33 824.96V836.53M293.67 834.67V845.87M299.00 840.27V858.94M304.33 841.20V859.87M309.67 857.06V879.46M315.00 870.13V873.87M320.33 867.89V883.20M325.67 872.93V886.93M331.00 879.47V888.80M336.33 881.33V890.67M341.67 888.80V900.94M347.00 883.20V894.39M352.33 883.20V894.39M357.67 880.40V890.67M363.00 883.20V894.39M368.33 894.40V903.74M373.67 909.34V914.00M379.00 910.26V920.53" fill="none" stroke="#111" stroke-width="1.4"/>
<path d="M123.63 837.47H133.03M128.97 861.74H138.37M134.30 872.00H143.70M139.63 881.33H149.03M144.97 881.33H154.37M150.30 890.67H159.70M155.63 894.39H165.03M160.97 896.27H170.37M166.30 901.87H175.70M171.63 903.73H181.03M176.97 909.33H186.37M182.30 915.87H191.70M187.63 881.33H197.03M192.97 883.20H202.37M198.30 886.93H207.70M203.63 884.13H213.03M208.97 871.07H218.37M214.30 862.67H223.70M219.63 857.06H229.03M224.97 848.66H234.37M230.30 848.67H239.70M235.63 847.73H245.03M240.97 838.40H250.37M246.30 821.60H255.70M251.63 823.47H261.03M256.97 830.93H266.37M262.30 834.67H271.70M267.63 834.67H277.03M272.97 844.00H282.37M278.30 851.47H287.70M283.63 836.53H293.03M288.97 845.87H298.37M294.30 858.94H303.70M299.63 859.87H309.03M304.97 879.46H314.37M310.30 873.87H319.70M315.63 883.20H325.03M320.97 886.93H330.37M326.30 888.80H335.70M331.63 890.67H341.03M336.97 900.94H346.37M342.30 894.39H351.70M347.63 894.39H357.03M352.97 890.67H362.37M358.30 894.39H367.70M363.63 903.74H373.03M368.97 914.00H378.37M374.30 920.53H383.70" fill="none" stroke="#111" stroke-width="1.5"/>
<circle cx="128.33" cy="830.00" r="4.0" fill="#fff" stroke="#1a1a1a" stroke-width="1.6"/>
<circle cx="133.67" cy="853.34" r="4.0" fill="#fff" stroke="#1a1a1a" stroke-width="1.6"/>
<circle cx="139.00" cy="863.60" r="4.0" fill="#fff" stroke="#1a1a1a" stroke-width="1.6"/>
<circle cx="144.33" cy="873.87" r="4.0" fill="#fff" stroke="#1a1a1a" stroke-width="1.6"/>
<circle cx="149.67" cy="872.00" r="4.0" fill="#fff" stroke="#1a1a1a" stroke-width="1.6"/>
<circle cx="155.00" cy="882.27" r="4.0" fill="#fff" stroke="#1a1a1a" stroke-width="1.6"/>
<circle cx="160.33" cy="886.93" r="4.0" fill="#fff" stroke="#1a1a1a" stroke-width="1.6"/>
<circle cx="165.67" cy="888.80" r="4.0" fill="#fff" stroke="#1a1a1a" stroke-width="1.6"/>
<circle cx="171.00" cy="894.40" r="4.0" fill="#fff" stroke="#1a1a1a" stroke-width="1.6"/>
<circle cx="176.33" cy="896.27" r="4.0" fill="#fff" stroke="#1a1a1a" stroke-width="1.6"/>
<circle cx="181.67" cy="901.87" r="4.0" fill="#fff" stroke="#1a1a1a" stroke-width="1.6"/>
<circle cx="187.00" cy="905.60" r="4.0" fill="#fff" stroke="#1a1a1a" stroke-width="1.6"/>
<circle cx="192.33" cy="867.33" r="4.0" fill="#fff" stroke="#1a1a1a" stroke-width="1.6"/>
<circle cx="197.67" cy="872.93" r="4.0" fill="#fff" stroke="#1a1a1a" stroke-width="1.6"/>
<circle cx="203.00" cy="875.73" r="4.0" fill="#fff" stroke="#1a1a1a" stroke-width="1.6"/>
<circle cx="208.33" cy="875.73" r="4.0" fill="#fff" stroke="#1a1a1a" stroke-width="1.6"/>
<circle cx="213.67" cy="858.00" r="4.0" fill="#fff" stroke="#1a1a1a" stroke-width="1.6"/>
<circle cx="219.00" cy="850.54" r="4.0" fill="#fff" stroke="#1a1a1a" stroke-width="1.6"/>
<circle cx="224.33" cy="842.13" r="4.0" fill="#fff" stroke="#1a1a1a" stroke-width="1.6"/>
<circle cx="229.67" cy="826.27" r="4.0" fill="#fff" stroke="#1a1a1a" stroke-width="1.6"/>
<circle cx="235.00" cy="827.20" r="4.0" fill="#fff" stroke="#1a1a1a" stroke-width="1.6"/>
<circle cx="240.33" cy="828.13" r="4.0" fill="#fff" stroke="#1a1a1a" stroke-width="1.6"/>
<circle cx="245.67" cy="829.07" r="4.0" fill="#fff" stroke="#1a1a1a" stroke-width="1.6"/>
<circle cx="251.00" cy="806.66" r="4.0" fill="#fff" stroke="#1a1a1a" stroke-width="1.6"/>
<circle cx="256.33" cy="807.60" r="4.0" fill="#fff" stroke="#1a1a1a" stroke-width="1.6"/>
<circle cx="261.67" cy="810.40" r="4.0" fill="#fff" stroke="#1a1a1a" stroke-width="1.6"/>
<circle cx="267.00" cy="817.87" r="4.0" fill="#fff" stroke="#1a1a1a" stroke-width="1.6"/>
<circle cx="272.33" cy="816.00" r="4.0" fill="#fff" stroke="#1a1a1a" stroke-width="1.6"/>
<circle cx="277.67" cy="825.33" r="4.0" fill="#fff" stroke="#1a1a1a" stroke-width="1.6"/>
<circle cx="283.00" cy="832.80" r="4.0" fill="#fff" stroke="#1a1a1a" stroke-width="1.6"/>
<circle cx="288.33" cy="824.96" r="4.0" fill="#fff" stroke="#1a1a1a" stroke-width="1.6"/>
<circle cx="293.67" cy="834.67" r="4.0" fill="#fff" stroke="#1a1a1a" stroke-width="1.6"/>
<circle cx="299.00" cy="840.27" r="4.0" fill="#fff" stroke="#1a1a1a" stroke-width="1.6"/>
<circle cx="304.33" cy="841.20" r="4.0" fill="#fff" stroke="#1a1a1a" stroke-width="1.6"/>
<circle cx="309.67" cy="857.06" r="4.0" fill="#fff" stroke="#1a1a1a" stroke-width="1.6"/>
<circle cx="315.00" cy="870.13" r="4.0" fill="#fff" stroke="#1a1a1a" stroke-width="1.6"/>
<circle cx="320.33" cy="867.89" r="4.0" fill="#fff" stroke="#1a1a1a" stroke-width="1.6"/>
<circle cx="325.67" cy="872.93" r="4.0" fill="#fff" stroke="#1a1a1a" stroke-width="1.6"/>
<circle cx="331.00" cy="879.47" r="4.0" fill="#fff" stroke="#1a1a1a" stroke-width="1.6"/>
<circle cx="336.33" cy="881.33" r="4.0" fill="#fff" stroke="#1a1a1a" stroke-width="1.6"/>
<circle cx="341.67" cy="888.80" r="4.0" fill="#fff" stroke="#1a1a1a" stroke-width="1.6"/>
<circle cx="347.00" cy="883.20" r="4.0" fill="#fff" stroke="#1a1a1a" stroke-width="1.6"/>
<circle cx="352.33" cy="883.20" r="4.0" fill="#fff" stroke="#1a1a1a" stroke-width="1.6"/>
<circle cx="357.67" cy="880.40" r="4.0" fill="#fff" stroke="#1a1a1a" stroke-width="1.6"/>
<circle cx="363.00" cy="883.20" r="4.0" fill="#fff" stroke="#1a1a1a" stroke-width="1.6"/>
<circle cx="368.33" cy="894.40" r="4.0" fill="#fff" stroke="#1a1a1a" stroke-width="1.6"/>
<circle cx="373.67" cy="909.34" r="4.0" fill="#fff" stroke="#1a1a1a" stroke-width="1.6"/>
<circle cx="379.00" cy="910.26" r="4.0" fill="#fff" stroke="#1a1a1a" stroke-width="1.6"/>
<path d="M128.33 848.66 L133.67 871.63 L139.00 880.40 L144.33 895.33 L149.67 899.07 L155.00 900.93 L160.33 899.63 L165.67 900.93 L171.00 911.20 L176.33 907.46 L181.67 905.60 L187.00 909.34 L192.33 856.14 L197.67 831.87 L203.00 833.73 L208.33 833.73 L213.67 827.20 L219.00 817.49 L224.33 817.87 L229.67 788.00 L235.00 802.00 L240.33 789.87 L245.67 800.14 L251.00 798.26 L256.33 800.14 L261.67 815.07 L267.00 822.53 L272.33 818.24 L277.67 820.67 L283.00 826.27 L288.33 843.07 L293.67 844.37 L299.00 849.23 L304.33 855.57 L309.67 866.40 L315.00 858.94 L320.33 866.77 L325.67 862.66 L331.00 877.60 L336.33 888.42 L341.67 892.91 L347.00 892.91 L352.33 892.91 L357.67 890.30 L363.00 872.93 L368.33 883.20 L373.67 898.13 L379.00 898.51" fill="none" stroke="#1a1a1a" stroke-width="1.25"/>
<path d="M128.33 848.66V837.47M133.67 871.63V861.74M139.00 880.40V872.00M144.33 895.33V887.87M149.67 899.07V890.67M155.00 900.93V893.47M160.33 899.63V891.60M165.67 900.93V893.47M171.00 911.20V903.74M176.33 907.46V900.00M181.67 905.60V899.07M187.00 909.34V900.00M192.33 856.14V847.74M197.67 831.87V823.47M203.00 833.73V823.46M208.33 833.73V820.66M213.67 827.20V813.21M219.00 817.49V797.33M224.33 817.87V800.14M229.67 788.00V764.67M235.00 802.00V778.67M240.33 789.87V767.84M245.67 800.14V773.07M251.00 798.26V771.20M256.33 800.14V770.83M261.67 815.07V787.07M267.00 822.53V796.40M272.33 818.24V800.14M277.67 820.67V799.20M283.00 826.27V805.18M288.33 843.07V830.93M293.67 844.37V834.67M299.00 849.23V836.54M304.33 855.57V844.00M309.67 866.40V855.20M315.00 858.94V844.94M320.33 866.77V855.20M325.67 862.66V851.83M331.00 877.60V869.20M336.33 888.42V879.46M341.67 892.91V885.07M347.00 892.91V885.07M352.33 892.91V885.07M357.67 890.30V881.33M363.00 872.93V860.43M368.33 883.20V873.49M373.67 898.13V888.42M379.00 898.51V887.87" fill="none" stroke="#111" stroke-width="1.4"/>
<path d="M123.63 837.47H133.03M128.97 861.74H138.37M134.30 872.00H143.70M139.63 887.87H149.03M144.97 890.67H154.37M150.30 893.47H159.70M155.63 891.60H165.03M160.97 893.47H170.37M166.30 903.74H175.70M171.63 900.00H181.03M176.97 899.07H186.37M182.30 900.00H191.70M187.63 847.74H197.03M192.97 823.47H202.37M198.30 823.46H207.70M203.63 820.66H213.03M208.97 813.21H218.37M214.30 797.33H223.70M219.63 800.14H229.03M224.97 764.67H234.37M230.30 778.67H239.70M235.63 767.84H245.03M240.97 773.07H250.37M246.30 771.20H255.70M251.63 770.83H261.03M256.97 787.07H266.37M262.30 796.40H271.70M267.63 800.14H277.03M272.97 799.20H282.37M278.30 805.18H287.70M283.63 830.93H293.03M288.97 834.67H298.37M294.30 836.54H303.70M299.63 844.00H309.03M304.97 855.20H314.37M310.30 844.94H319.70M315.63 855.20H325.03M320.97 851.83H330.37M326.30 869.20H335.70M331.63 879.46H341.03M336.97 885.07H346.37M342.30 885.07H351.70M347.63 885.07H357.03M352.97 881.33H362.37M358.30 860.43H367.70M363.63 873.49H373.03M368.97 888.42H378.37M374.30 887.87H383.70" fill="none" stroke="#111" stroke-width="1.5"/>
<circle cx="128.33" cy="848.66" r="4.0" fill="#787878" stroke="#1a1a1a" stroke-width="1.6"/>
<circle cx="133.67" cy="871.63" r="4.0" fill="#787878" stroke="#1a1a1a" stroke-width="1.6"/>
<circle cx="139.00" cy="880.40" r="4.0" fill="#787878" stroke="#1a1a1a" stroke-width="1.6"/>
<circle cx="144.33" cy="895.33" r="4.0" fill="#787878" stroke="#1a1a1a" stroke-width="1.6"/>
<circle cx="149.67" cy="899.07" r="4.0" fill="#787878" stroke="#1a1a1a" stroke-width="1.6"/>
<circle cx="155.00" cy="900.93" r="4.0" fill="#787878" stroke="#1a1a1a" stroke-width="1.6"/>
<circle cx="160.33" cy="899.63" r="4.0" fill="#787878" stroke="#1a1a1a" stroke-width="1.6"/>
<circle cx="165.67" cy="900.93" r="4.0" fill="#787878" stroke="#1a1a1a" stroke-width="1.6"/>
<circle cx="171.00" cy="911.20" r="4.0" fill="#787878" stroke="#1a1a1a" stroke-width="1.6"/>
<circle cx="176.33" cy="907.46" r="4.0" fill="#787878" stroke="#1a1a1a" stroke-width="1.6"/>
<circle cx="181.67" cy="905.60" r="4.0" fill="#787878" stroke="#1a1a1a" stroke-width="1.6"/>
<circle cx="187.00" cy="909.34" r="4.0" fill="#787878" stroke="#1a1a1a" stroke-width="1.6"/>
<circle cx="192.33" cy="856.14" r="4.0" fill="#787878" stroke="#1a1a1a" stroke-width="1.6"/>
<circle cx="197.67" cy="831.87" r="4.0" fill="#787878" stroke="#1a1a1a" stroke-width="1.6"/>
<circle cx="203.00" cy="833.73" r="4.0" fill="#787878" stroke="#1a1a1a" stroke-width="1.6"/>
<circle cx="208.33" cy="833.73" r="4.0" fill="#787878" stroke="#1a1a1a" stroke-width="1.6"/>
<circle cx="213.67" cy="827.20" r="4.0" fill="#787878" stroke="#1a1a1a" stroke-width="1.6"/>
<circle cx="219.00" cy="817.49" r="4.0" fill="#787878" stroke="#1a1a1a" stroke-width="1.6"/>
<circle cx="224.33" cy="817.87" r="4.0" fill="#787878" stroke="#1a1a1a" stroke-width="1.6"/>
<circle cx="229.67" cy="788.00" r="4.0" fill="#787878" stroke="#1a1a1a" stroke-width="1.6"/>
<circle cx="235.00" cy="802.00" r="4.0" fill="#787878" stroke="#1a1a1a" stroke-width="1.6"/>
<circle cx="240.33" cy="789.87" r="4.0" fill="#787878" stroke="#1a1a1a" stroke-width="1.6"/>
<circle cx="245.67" cy="800.14" r="4.0" fill="#787878" stroke="#1a1a1a" stroke-width="1.6"/>
<circle cx="251.00" cy="798.26" r="4.0" fill="#787878" stroke="#1a1a1a" stroke-width="1.6"/>
<circle cx="256.33" cy="800.14" r="4.0" fill="#787878" stroke="#1a1a1a" stroke-width="1.6"/>
<circle cx="261.67" cy="815.07" r="4.0" fill="#787878" stroke="#1a1a1a" stroke-width="1.6"/>
<circle cx="267.00" cy="822.53" r="4.0" fill="#787878" stroke="#1a1a1a" stroke-width="1.6"/>
<circle cx="272.33" cy="818.24" r="4.0" fill="#787878" stroke="#1a1a1a" stroke-width="1.6"/>
<circle cx="277.67" cy="820.67" r="4.0" fill="#787878" stroke="#1a1a1a" stroke-width="1.6"/>
<circle cx="283.00" cy="826.27" r="4.0" fill="#787878" stroke="#1a1a1a" stroke-width="1.6"/>
<circle cx="288.33" cy="843.07" r="4.0" fill="#787878" stroke="#1a1a1a" stroke-width="1.6"/>
<circle cx="293.67" cy="844.37" r="4.0" fill="#787878" stroke="#1a1a1a" stroke-width="1.6"/>
<circle cx="299.00" cy="849.23" r="4.0" fill="#787878" stroke="#1a1a1a" stroke-width="1.6"/>
<circle cx="304.33" cy="855.57" r="4.0" fill="#787878" stroke="#1a1a1a" stroke-width="1.6"/>
<circle cx="309.67" cy="866.40" r="4.0" fill="#787878" stroke="#1a1a1a" stroke-width="1.6"/>
<circle cx="315.00" cy="858.94" r="4.0" fill="#787878" stroke="#1a1a1a" stroke-width="1.6"/>
<circle cx="320.33" cy="866.77" r="4.0" fill="#787878" stroke="#1a1a1a" stroke-width="1.6"/>
<circle cx="325.67" cy="862.66" r="4.0" fill="#787878" stroke="#1a1a1a" stroke-width="1.6"/>
<circle cx="331.00" cy="877.60" r="4.0" fill="#787878" stroke="#1a1a1a" stroke-width="1.6"/>
<circle cx="336.33" cy="888.42" r="4.0" fill="#787878" stroke="#1a1a1a" stroke-width="1.6"/>
<circle cx="341.67" cy="892.91" r="4.0" fill="#787878" stroke="#1a1a1a" stroke-width="1.6"/>
<circle cx="347.00" cy="892.91" r="4.0" fill="#787878" stroke="#1a1a1a" stroke-width="1.6"/>
<circle cx="352.33" cy="892.91" r="4.0" fill="#787878" stroke="#1a1a1a" stroke-width="1.6"/>
<circle cx="357.67" cy="890.30" r="4.0" fill="#787878" stroke="#1a1a1a" stroke-width="1.6"/>
<circle cx="363.00" cy="872.93" r="4.0" fill="#787878" stroke="#1a1a1a" stroke-width="1.6"/>
<circle cx="368.33" cy="883.20" r="4.0" fill="#787878" stroke="#1a1a1a" stroke-width="1.6"/>
<circle cx="373.67" cy="898.13" r="4.0" fill="#787878" stroke="#1a1a1a" stroke-width="1.6"/>
<circle cx="379.00" cy="898.51" r="4.0" fill="#787878" stroke="#1a1a1a" stroke-width="1.6"/>
<line x1="187.00" y1="677.80" x2="187.00" y2="955.90" stroke="#000" stroke-width="2.3" stroke-dasharray="4.5 2.18" stroke-dashoffset="1.2"/>
<path d="M422.60 677.80H706.00V955.90H422.60M428.60 677.80V955.90" fill="none" stroke="#1a1a1a" stroke-width="1.6"/>
<line x1="422.60" y1="909.55" x2="428.60" y2="909.55" stroke="#1a1a1a" stroke-width="1.6"/>
<line x1="422.60" y1="863.20" x2="428.60" y2="863.20" stroke="#1a1a1a" stroke-width="1.6"/>
<line x1="422.60" y1="816.85" x2="428.60" y2="816.85" stroke="#1a1a1a" stroke-width="1.6"/>
<line x1="422.60" y1="770.50" x2="428.60" y2="770.50" stroke="#1a1a1a" stroke-width="1.6"/>
<line x1="422.60" y1="724.15" x2="428.60" y2="724.15" stroke="#1a1a1a" stroke-width="1.6"/>
<line x1="439.20" y1="955.90" x2="439.20" y2="961.90" stroke="#1a1a1a" stroke-width="1.6"/>
<line x1="471.20" y1="955.90" x2="471.20" y2="961.90" stroke="#1a1a1a" stroke-width="1.6"/>
<line x1="503.20" y1="955.90" x2="503.20" y2="961.90" stroke="#1a1a1a" stroke-width="1.6"/>
<line x1="535.20" y1="955.90" x2="535.20" y2="961.90" stroke="#1a1a1a" stroke-width="1.6"/>
<line x1="567.20" y1="955.90" x2="567.20" y2="961.90" stroke="#1a1a1a" stroke-width="1.6"/>
<line x1="599.20" y1="955.90" x2="599.20" y2="961.90" stroke="#1a1a1a" stroke-width="1.6"/>
<line x1="631.20" y1="955.90" x2="631.20" y2="961.90" stroke="#1a1a1a" stroke-width="1.6"/>
<line x1="663.20" y1="955.90" x2="663.20" y2="961.90" stroke="#1a1a1a" stroke-width="1.6"/>
<line x1="695.20" y1="955.90" x2="695.20" y2="961.90" stroke="#1a1a1a" stroke-width="1.6"/>
<text x="436.9" y="700.6" font-size="22" font-weight="bold">f</text>
<path d="M444.53 862.66 L449.87 872.38 L455.20 879.47 L460.53 884.13 L465.87 888.80 L471.20 891.60 L476.53 898.13 L481.87 903.74 L487.20 917.74 L492.53 911.20 L497.87 909.34 L503.20 918.66 L508.53 885.44 L513.87 876.10 L519.20 882.27 L524.53 882.27 L529.87 880.96 L535.20 872.00 L540.53 863.60 L545.87 865.47 L551.20 862.29 L556.53 852.40 L561.87 851.46 L567.20 853.71 L572.53 853.34 L577.87 851.46 L583.20 858.94 L588.53 858.56 L593.87 864.16 L599.20 864.53 L604.53 864.91 L609.87 866.03 L615.20 867.89 L620.53 876.67 L625.87 874.24 L631.20 882.82 L636.53 889.73 L641.87 884.13 L647.20 888.80 L652.53 899.07 L657.87 888.80 L663.20 892.53 L668.53 894.40 L673.87 899.63 L679.20 894.77 L684.53 904.11 L689.87 902.80 L695.20 915.86" fill="none" stroke="#1a1a1a" stroke-width="1.25"/>
<path d="M444.53 862.66V871.06M449.87 872.38V879.47M455.20 879.47V886.93M460.53 884.13V891.59M465.87 888.80V896.27M471.20 891.60V899.07M476.53 898.13V905.59M481.87 903.74V911.20M487.20 917.74V928.01M492.53 911.20V918.66M497.87 909.34V916.80M503.20 918.66V927.06M508.53 885.44V894.40M513.87 876.10V888.79M519.20 882.27V892.91M524.53 882.27V892.91M529.87 880.96V892.91M535.20 872.00V884.13M540.53 863.60V877.60M545.87 865.47V877.61M551.20 862.29V872.00M556.53 852.40V870.13M561.87 851.46V870.13M567.20 853.71V868.27M572.53 853.34V867.33M577.87 851.46V864.53M583.20 858.94V872.93M588.53 858.56V874.80M593.87 864.16V877.61M599.20 864.53V877.61M604.53 864.91V879.47M609.87 866.03V879.47M615.20 867.89V881.33M620.53 876.67V887.87M625.87 874.24V886.93M631.20 882.82V893.47M636.53 889.73V901.87M641.87 884.13V894.40M647.20 888.80V899.07M652.53 899.07V911.20M657.87 888.80V900.00M663.20 892.53V901.87M668.53 894.40V905.60M673.87 899.63V910.27M679.20 894.77V905.60M684.53 904.11V914.00M689.87 902.80V912.14M695.20 915.86V927.06" fill="none" stroke="#111" stroke-width="1.4"/>
<path d="M439.83 871.06H449.23M445.17 879.47H454.57M450.50 886.93H459.90M455.83 891.59H465.23M461.17 896.27H470.57M466.50 899.07H475.90M471.83 905.59H481.23M477.17 911.20H486.57M482.50 928.01H491.90M487.83 918.66H497.23M493.17 916.80H502.57M498.50 927.06H507.90M503.83 894.40H513.23M509.17 888.79H518.57M514.50 892.91H523.90M519.83 892.91H529.23M525.17 892.91H534.57M530.50 884.13H539.90M535.83 877.60H545.23M541.17 877.61H550.57M546.50 872.00H555.90M551.83 870.13H561.23M557.17 870.13H566.57M562.50 868.27H571.90M567.83 867.33H577.23M573.17 864.53H582.57M578.50 872.93H587.90M583.83 874.80H593.23M589.17 877.61H598.57M594.50 877.61H603.90M599.83 879.47H609.23M605.17 879.47H614.57M610.50 881.33H619.90M615.83 887.87H625.23M621.17 886.93H630.57M626.50 893.47H635.90M631.83 901.87H641.23M637.17 894.40H646.57M642.50 899.07H651.90M647.83 911.20H657.23M653.17 900.00H662.57M658.50 901.87H667.90M663.83 905.60H673.23M669.17 910.27H678.57M674.50 905.60H683.90M679.83 914.00H689.23M685.17 912.14H694.57M690.50 927.06H699.90" fill="none" stroke="#111" stroke-width="1.5"/>
<circle cx="444.53" cy="862.66" r="4.0" fill="#fff" stroke="#1a1a1a" stroke-width="1.6"/>
<circle cx="449.87" cy="872.38" r="4.0" fill="#fff" stroke="#1a1a1a" stroke-width="1.6"/>
<circle cx="455.20" cy="879.47" r="4.0" fill="#fff" stroke="#1a1a1a" stroke-width="1.6"/>
<circle cx="460.53" cy="884.13" r="4.0" fill="#fff" stroke="#1a1a1a" stroke-width="1.6"/>
<circle cx="465.87" cy="888.80" r="4.0" fill="#fff" stroke="#1a1a1a" stroke-width="1.6"/>
<circle cx="471.20" cy="891.60" r="4.0" fill="#fff" stroke="#1a1a1a" stroke-width="1.6"/>
<circle cx="476.53" cy="898.13" r="4.0" fill="#fff" stroke="#1a1a1a" stroke-width="1.6"/>
<circle cx="481.87" cy="903.74" r="4.0" fill="#fff" stroke="#1a1a1a" stroke-width="1.6"/>
<circle cx="487.20" cy="917.74" r="4.0" fill="#fff" stroke="#1a1a1a" stroke-width="1.6"/>
<circle cx="492.53" cy="911.20" r="4.0" fill="#fff" stroke="#1a1a1a" stroke-width="1.6"/>
<circle cx="497.87" cy="909.34" r="4.0" fill="#fff" stroke="#1a1a1a" stroke-width="1.6"/>
<circle cx="503.20" cy="918.66" r="4.0" fill="#fff" stroke="#1a1a1a" stroke-width="1.6"/>
<circle cx="508.53" cy="885.44" r="4.0" fill="#fff" stroke="#1a1a1a" stroke-width="1.6"/>
<circle cx="513.87" cy="876.10" r="4.0" fill="#fff" stroke="#1a1a1a" stroke-width="1.6"/>
<circle cx="519.20" cy="882.27" r="4.0" fill="#fff" stroke="#1a1a1a" stroke-width="1.6"/>
<circle cx="524.53" cy="882.27" r="4.0" fill="#fff" stroke="#1a1a1a" stroke-width="1.6"/>
<circle cx="529.87" cy="880.96" r="4.0" fill="#fff" stroke="#1a1a1a" stroke-width="1.6"/>
<circle cx="535.20" cy="872.00" r="4.0" fill="#fff" stroke="#1a1a1a" stroke-width="1.6"/>
<circle cx="540.53" cy="863.60" r="4.0" fill="#fff" stroke="#1a1a1a" stroke-width="1.6"/>
<circle cx="545.87" cy="865.47" r="4.0" fill="#fff" stroke="#1a1a1a" stroke-width="1.6"/>
<circle cx="551.20" cy="862.29" r="4.0" fill="#fff" stroke="#1a1a1a" stroke-width="1.6"/>
<circle cx="556.53" cy="852.40" r="4.0" fill="#fff" stroke="#1a1a1a" stroke-width="1.6"/>
<circle cx="561.87" cy="851.46" r="4.0" fill="#fff" stroke="#1a1a1a" stroke-width="1.6"/>
<circle cx="567.20" cy="853.71" r="4.0" fill="#fff" stroke="#1a1a1a" stroke-width="1.6"/>
<circle cx="572.53" cy="853.34" r="4.0" fill="#fff" stroke="#1a1a1a" stroke-width="1.6"/>
<circle cx="577.87" cy="851.46" r="4.0" fill="#fff" stroke="#1a1a1a" stroke-width="1.6"/>
<circle cx="583.20" cy="858.94" r="4.0" fill="#fff" stroke="#1a1a1a" stroke-width="1.6"/>
<circle cx="588.53" cy="858.56" r="4.0" fill="#fff" stroke="#1a1a1a" stroke-width="1.6"/>
<circle cx="593.87" cy="864.16" r="4.0" fill="#fff" stroke="#1a1a1a" stroke-width="1.6"/>
<circle cx="599.20" cy="864.53" r="4.0" fill="#fff" stroke="#1a1a1a" stroke-width="1.6"/>
<circle cx="604.53" cy="864.91" r="4.0" fill="#fff" stroke="#1a1a1a" stroke-width="1.6"/>
<circle cx="609.87" cy="866.03" r="4.0" fill="#fff" stroke="#1a1a1a" stroke-width="1.6"/>
<circle cx="615.20" cy="867.89" r="4.0" fill="#fff" stroke="#1a1a1a" stroke-width="1.6"/>
<circle cx="620.53" cy="876.67" r="4.0" fill="#fff" stroke="#1a1a1a" stroke-width="1.6"/>
<circle cx="625.87" cy="874.24" r="4.0" fill="#fff" stroke="#1a1a1a" stroke-width="1.6"/>
<circle cx="631.20" cy="882.82" r="4.0" fill="#fff" stroke="#1a1a1a" stroke-width="1.6"/>
<circle cx="636.53" cy="889.73" r="4.0" fill="#fff" stroke="#1a1a1a" stroke-width="1.6"/>
<circle cx="641.87" cy="884.13" r="4.0" fill="#fff" stroke="#1a1a1a" stroke-width="1.6"/>
<circle cx="647.20" cy="888.80" r="4.0" fill="#fff" stroke="#1a1a1a" stroke-width="1.6"/>
<circle cx="652.53" cy="899.07" r="4.0" fill="#fff" stroke="#1a1a1a" stroke-width="1.6"/>
<circle cx="657.87" cy="888.80" r="4.0" fill="#fff" stroke="#1a1a1a" stroke-width="1.6"/>
<circle cx="663.20" cy="892.53" r="4.0" fill="#fff" stroke="#1a1a1a" stroke-width="1.6"/>
<circle cx="668.53" cy="894.40" r="4.0" fill="#fff" stroke="#1a1a1a" stroke-width="1.6"/>
<circle cx="673.87" cy="899.63" r="4.0" fill="#fff" stroke="#1a1a1a" stroke-width="1.6"/>
<circle cx="679.20" cy="894.77" r="4.0" fill="#fff" stroke="#1a1a1a" stroke-width="1.6"/>
<circle cx="684.53" cy="904.11" r="4.0" fill="#fff" stroke="#1a1a1a" stroke-width="1.6"/>
<circle cx="689.87" cy="902.80" r="4.0" fill="#fff" stroke="#1a1a1a" stroke-width="1.6"/>
<circle cx="695.20" cy="915.86" r="4.0" fill="#fff" stroke="#1a1a1a" stroke-width="1.6"/>
<path d="M444.53 861.74 L449.87 885.44 L455.20 892.16 L460.53 889.73 L465.87 886.93 L471.20 900.37 L476.53 899.63 L481.87 907.09 L487.20 914.56 L492.53 904.11 L497.87 904.11 L503.20 907.84 L508.53 863.04 L513.87 841.76 L519.20 843.07 L524.53 824.40 L529.87 820.10 L535.20 812.64 L540.53 800.69 L545.87 792.66 L551.20 799.20 L556.53 788.00 L561.87 800.69 L567.20 795.46 L572.53 795.46 L577.87 794.54 L583.20 803.31 L588.53 808.91 L593.87 806.29 L599.20 818.80 L604.53 816.38 L609.87 826.82 L615.20 833.17 L620.53 827.58 L625.87 836.16 L631.20 844.00 L636.53 852.40 L641.87 853.34 L647.20 865.47 L652.53 884.13 L657.87 878.53 L663.20 884.70 L668.53 889.73 L673.87 889.73 L679.20 889.17 L684.53 886.93 L689.87 892.91 L695.20 902.80" fill="none" stroke="#1a1a1a" stroke-width="1.25"/>
<path d="M444.53 861.74V854.27M449.87 885.44V879.47M455.20 892.16V886.93M460.53 889.73V884.13M465.87 886.93V882.27M471.20 900.37V894.40M476.53 899.63V894.40M481.87 907.09V900.93M487.20 914.56V907.46M492.53 904.11V898.14M497.87 904.11V899.07M503.20 907.84V900.00M508.53 863.04V857.07M513.87 841.76V832.79M519.20 843.07V828.13M524.53 824.40V805.73M529.87 820.10V798.26M535.20 812.64V786.14M540.53 800.69V773.99M545.87 792.66V764.67M551.20 799.20V770.08M556.53 788.00V757.76M561.87 800.69V770.08M567.20 795.46V763.73M572.53 795.46V765.60M577.87 794.54V762.81M583.20 803.31V773.07M588.53 808.91V778.67M593.87 806.29V777.17M599.20 818.80V788.93M604.53 816.38V788.94M609.87 826.82V799.20M615.20 833.17V806.67M620.53 827.58V804.80M625.87 836.16V813.20M631.20 844.00V823.47M636.53 852.40V831.87M641.87 853.34V834.67M647.20 865.47V847.74M652.53 884.13V870.50M657.87 878.53V863.60M663.20 884.70V876.67M668.53 889.73V879.46M673.87 889.73V878.53M679.20 889.17V879.47M684.53 886.93V877.23M689.87 892.91V884.14M695.20 902.80V894.77" fill="none" stroke="#111" stroke-width="1.4"/>
<path d="M439.83 854.27H449.23M445.17 879.47H454.57M450.50 886.93H459.90M455.83 884.13H465.23M461.17 882.27H470.57M466.50 894.40H475.90M471.83 894.40H481.23M477.17 900.93H486.57M482.50 907.46H491.90M487.83 898.14H497.23M493.17 899.07H502.57M498.50 900.00H507.90M503.83 857.07H513.23M509.17 832.79H518.57M514.50 828.13H523.90M519.83 805.73H529.23M525.17 798.26H534.57M530.50 786.14H539.90M535.83 773.99H545.23M541.17 764.67H550.57M546.50 770.08H555.90M551.83 757.76H561.23M557.17 770.08H566.57M562.50 763.73H571.90M567.83 765.60H577.23M573.17 762.81H582.57M578.50 773.07H587.90M583.83 778.67H593.23M589.17 777.17H598.57M594.50 788.93H603.90M599.83 788.94H609.23M605.17 799.20H614.57M610.50 806.67H619.90M615.83 804.80H625.23M621.17 813.20H630.57M626.50 823.47H635.90M631.83 831.87H641.23M637.17 834.67H646.57M642.50 847.74H651.90M647.83 870.50H657.23M653.17 863.60H662.57M658.50 876.67H667.90M663.83 879.46H673.23M669.17 878.53H678.57M674.50 879.47H683.90M679.83 877.23H689.23M685.17 884.14H694.57M690.50 894.77H699.90" fill="none" stroke="#111" stroke-width="1.5"/>
<circle cx="444.53" cy="861.74" r="4.0" fill="#787878" stroke="#1a1a1a" stroke-width="1.6"/>
<circle cx="449.87" cy="885.44" r="4.0" fill="#787878" stroke="#1a1a1a" stroke-width="1.6"/>
<circle cx="455.20" cy="892.16" r="4.0" fill="#787878" stroke="#1a1a1a" stroke-width="1.6"/>
<circle cx="460.53" cy="889.73" r="4.0" fill="#787878" stroke="#1a1a1a" stroke-width="1.6"/>
<circle cx="465.87" cy="886.93" r="4.0" fill="#787878" stroke="#1a1a1a" stroke-width="1.6"/>
<circle cx="471.20" cy="900.37" r="4.0" fill="#787878" stroke="#1a1a1a" stroke-width="1.6"/>
<circle cx="476.53" cy="899.63" r="4.0" fill="#787878" stroke="#1a1a1a" stroke-width="1.6"/>
<circle cx="481.87" cy="907.09" r="4.0" fill="#787878" stroke="#1a1a1a" stroke-width="1.6"/>
<circle cx="487.20" cy="914.56" r="4.0" fill="#787878" stroke="#1a1a1a" stroke-width="1.6"/>
<circle cx="492.53" cy="904.11" r="4.0" fill="#787878" stroke="#1a1a1a" stroke-width="1.6"/>
<circle cx="497.87" cy="904.11" r="4.0" fill="#787878" stroke="#1a1a1a" stroke-width="1.6"/>
<circle cx="503.20" cy="907.84" r="4.0" fill="#787878" stroke="#1a1a1a" stroke-width="1.6"/>
<circle cx="508.53" cy="863.04" r="4.0" fill="#787878" stroke="#1a1a1a" stroke-width="1.6"/>
<circle cx="513.87" cy="841.76" r="4.0" fill="#787878" stroke="#1a1a1a" stroke-width="1.6"/>
<circle cx="519.20" cy="843.07" r="4.0" fill="#787878" stroke="#1a1a1a" stroke-width="1.6"/>
<circle cx="524.53" cy="824.40" r="4.0" fill="#787878" stroke="#1a1a1a" stroke-width="1.6"/>
<circle cx="529.87" cy="820.10" r="4.0" fill="#787878" stroke="#1a1a1a" stroke-width="1.6"/>
<circle cx="535.20" cy="812.64" r="4.0" fill="#787878" stroke="#1a1a1a" stroke-width="1.6"/>
<circle cx="540.53" cy="800.69" r="4.0" fill="#787878" stroke="#1a1a1a" stroke-width="1.6"/>
<circle cx="545.87" cy="792.66" r="4.0" fill="#787878" stroke="#1a1a1a" stroke-width="1.6"/>
<circle cx="551.20" cy="799.20" r="4.0" fill="#787878" stroke="#1a1a1a" stroke-width="1.6"/>
<circle cx="556.53" cy="788.00" r="4.0" fill="#787878" stroke="#1a1a1a" stroke-width="1.6"/>
<circle cx="561.87" cy="800.69" r="4.0" fill="#787878" stroke="#1a1a1a" stroke-width="1.6"/>
<circle cx="567.20" cy="795.46" r="4.0" fill="#787878" stroke="#1a1a1a" stroke-width="1.6"/>
<circle cx="572.53" cy="795.46" r="4.0" fill="#787878" stroke="#1a1a1a" stroke-width="1.6"/>
<circle cx="577.87" cy="794.54" r="4.0" fill="#787878" stroke="#1a1a1a" stroke-width="1.6"/>
<circle cx="583.20" cy="803.31" r="4.0" fill="#787878" stroke="#1a1a1a" stroke-width="1.6"/>
<circle cx="588.53" cy="808.91" r="4.0" fill="#787878" stroke="#1a1a1a" stroke-width="1.6"/>
<circle cx="593.87" cy="806.29" r="4.0" fill="#787878" stroke="#1a1a1a" stroke-width="1.6"/>
<circle cx="599.20" cy="818.80" r="4.0" fill="#787878" stroke="#1a1a1a" stroke-width="1.6"/>
<circle cx="604.53" cy="816.38" r="4.0" fill="#787878" stroke="#1a1a1a" stroke-width="1.6"/>
<circle cx="609.87" cy="826.82" r="4.0" fill="#787878" stroke="#1a1a1a" stroke-width="1.6"/>
<circle cx="615.20" cy="833.17" r="4.0" fill="#787878" stroke="#1a1a1a" stroke-width="1.6"/>
<circle cx="620.53" cy="827.58" r="4.0" fill="#787878" stroke="#1a1a1a" stroke-width="1.6"/>
<circle cx="625.87" cy="836.16" r="4.0" fill="#787878" stroke="#1a1a1a" stroke-width="1.6"/>
<circle cx="631.20" cy="844.00" r="4.0" fill="#787878" stroke="#1a1a1a" stroke-width="1.6"/>
<circle cx="636.53" cy="852.40" r="4.0" fill="#787878" stroke="#1a1a1a" stroke-width="1.6"/>
<circle cx="641.87" cy="853.34" r="4.0" fill="#787878" stroke="#1a1a1a" stroke-width="1.6"/>
<circle cx="647.20" cy="865.47" r="4.0" fill="#787878" stroke="#1a1a1a" stroke-width="1.6"/>
<circle cx="652.53" cy="884.13" r="4.0" fill="#787878" stroke="#1a1a1a" stroke-width="1.6"/>
<circle cx="657.87" cy="878.53" r="4.0" fill="#787878" stroke="#1a1a1a" stroke-width="1.6"/>
<circle cx="663.20" cy="884.70" r="4.0" fill="#787878" stroke="#1a1a1a" stroke-width="1.6"/>
<circle cx="668.53" cy="889.73" r="4.0" fill="#787878" stroke="#1a1a1a" stroke-width="1.6"/>
<circle cx="673.87" cy="889.73" r="4.0" fill="#787878" stroke="#1a1a1a" stroke-width="1.6"/>
<circle cx="679.20" cy="889.17" r="4.0" fill="#787878" stroke="#1a1a1a" stroke-width="1.6"/>
<circle cx="684.53" cy="886.93" r="4.0" fill="#787878" stroke="#1a1a1a" stroke-width="1.6"/>
<circle cx="689.87" cy="892.91" r="4.0" fill="#787878" stroke="#1a1a1a" stroke-width="1.6"/>
<circle cx="695.20" cy="902.80" r="4.0" fill="#787878" stroke="#1a1a1a" stroke-width="1.6"/>
<line x1="503.20" y1="677.80" x2="503.20" y2="955.90" stroke="#000" stroke-width="2.3" stroke-dasharray="4.5 2.18" stroke-dashoffset="1.2"/>
<path d="M106.00 1000.60H390.00V1278.40H106.00M112.00 1000.60V1278.40" fill="none" stroke="#1a1a1a" stroke-width="1.6"/>
<line x1="106.00" y1="1232.10" x2="112.00" y2="1232.10" stroke="#1a1a1a" stroke-width="1.6"/>
<line x1="106.00" y1="1185.80" x2="112.00" y2="1185.80" stroke="#1a1a1a" stroke-width="1.6"/>
<line x1="106.00" y1="1139.50" x2="112.00" y2="1139.50" stroke="#1a1a1a" stroke-width="1.6"/>
<line x1="106.00" y1="1093.20" x2="112.00" y2="1093.20" stroke="#1a1a1a" stroke-width="1.6"/>
<line x1="106.00" y1="1046.90" x2="112.00" y2="1046.90" stroke="#1a1a1a" stroke-width="1.6"/>
<line x1="123.00" y1="1278.40" x2="123.00" y2="1284.40" stroke="#1a1a1a" stroke-width="1.6"/>
<line x1="155.00" y1="1278.40" x2="155.00" y2="1284.40" stroke="#1a1a1a" stroke-width="1.6"/>
<line x1="187.00" y1="1278.40" x2="187.00" y2="1284.40" stroke="#1a1a1a" stroke-width="1.6"/>
<line x1="219.00" y1="1278.40" x2="219.00" y2="1284.40" stroke="#1a1a1a" stroke-width="1.6"/>
<line x1="251.00" y1="1278.40" x2="251.00" y2="1284.40" stroke="#1a1a1a" stroke-width="1.6"/>
<line x1="283.00" y1="1278.40" x2="283.00" y2="1284.40" stroke="#1a1a1a" stroke-width="1.6"/>
<line x1="315.00" y1="1278.40" x2="315.00" y2="1284.40" stroke="#1a1a1a" stroke-width="1.6"/>
<line x1="347.00" y1="1278.40" x2="347.00" y2="1284.40" stroke="#1a1a1a" stroke-width="1.6"/>
<line x1="379.00" y1="1278.40" x2="379.00" y2="1284.40" stroke="#1a1a1a" stroke-width="1.6"/>
<text x="117.2" y="1020.5" font-size="22" font-weight="bold">g</text>
<text x="96.7" y="1284.60" font-size="16.3" text-anchor="end">0</text>
<text x="96.7" y="1238.30" font-size="16.3" text-anchor="end">500</text>
<text x="96.7" y="1192.00" font-size="16.3" text-anchor="end">1000</text>
<text x="96.7" y="1145.70" font-size="16.3" text-anchor="end">1500</text>
<text x="96.7" y="1099.40" font-size="16.3" text-anchor="end">2000</text>
<text x="96.7" y="1053.10" font-size="16.3" text-anchor="end">2500</text>
<text x="96.7" y="1006.80" font-size="16.3" text-anchor="end">3000</text>
<text x="123.00" y="1306.8" font-size="16.2" text-anchor="middle">-60</text>
<text x="155.00" y="1306.8" font-size="16.2" text-anchor="middle">-30</text>
<text x="187.00" y="1306.8" font-size="16.2" text-anchor="middle">0</text>
<text x="219.00" y="1306.8" font-size="16.2" text-anchor="middle">30</text>
<text x="251.00" y="1306.8" font-size="16.2" text-anchor="middle">60</text>
<text x="283.00" y="1306.8" font-size="16.2" text-anchor="middle">90</text>
<text x="315.00" y="1306.8" font-size="16.2" text-anchor="middle">120</text>
<text x="347.00" y="1306.8" font-size="16.2" text-anchor="middle">150</text>
<text x="379.00" y="1306.8" font-size="16.2" text-anchor="middle">180</text>
<path d="M128.33 1164.07 L133.67 1178.44 L139.00 1185.16 L144.33 1187.02 L149.67 1193.93 L155.00 1194.87 L160.33 1203.83 L165.67 1207.00 L171.00 1205.13 L176.33 1222.50 L181.67 1222.50 L187.00 1224.36 L192.33 1163.51 L197.67 1146.70 L203.00 1134.03 L208.33 1130.67 L213.67 1116.66 L219.00 1098.00 L224.33 1089.23 L229.67 1078.40 L235.00 1070.56 L240.33 1065.71 L245.67 1056.94 L251.00 1056.67 L256.33 1060.03 L261.67 1063.20 L267.00 1051.44 L272.33 1066.93 L277.67 1054.43 L283.00 1074.96 L288.33 1072.53 L293.67 1062.64 L299.00 1060.03 L304.33 1069.36 L309.67 1077.57 L315.00 1051.44 L320.33 1086.90 L325.67 1080.93 L331.00 1080.56 L336.33 1092.14 L341.67 1101.09 L347.00 1101.09 L352.33 1110.42 L357.67 1110.80 L363.00 1125.36 L368.33 1130.40 L373.67 1122.00 L379.00 1125.73" fill="none" stroke="#1a1a1a" stroke-width="1.25"/>
<path d="M128.33 1164.07V1172.47M133.67 1178.44V1189.26M139.00 1185.16V1193.00M144.33 1187.02V1196.73M149.67 1193.93V1202.33M155.00 1194.87V1204.20M160.33 1203.83V1211.67M165.67 1207.00V1215.39M171.00 1205.13V1215.40M176.33 1222.50V1230.34M181.67 1222.50V1230.34M187.00 1224.36V1236.87M192.33 1163.51V1182.73M197.67 1146.70V1153.80M203.00 1134.03V1141.87M208.33 1130.67V1137.20M213.67 1116.66V1130.67M219.00 1098.00V1113.86M224.33 1089.23V1103.60M229.67 1078.40V1093.34M235.00 1070.56V1084.00M240.33 1065.71V1078.40M245.67 1056.94V1070.94M251.00 1056.67V1071.61M256.33 1060.03V1071.61M261.67 1063.20V1077.20M267.00 1051.44V1065.99M272.33 1066.93V1084.66M277.67 1054.43V1071.61M283.00 1074.96V1089.33M288.33 1072.53V1087.47M293.67 1062.64V1075.34M299.00 1060.03V1077.21M304.33 1069.36V1085.60M309.67 1077.57V1089.33M315.00 1051.44V1065.99M320.33 1086.90V1098.66M325.67 1080.93V1092.14M331.00 1080.56V1099.60M336.33 1092.14V1101.47M341.67 1101.09V1118.27M347.00 1101.09V1116.40M352.33 1110.42V1126.67M357.67 1110.80V1125.74M363.00 1125.36V1142.54M368.33 1130.40V1142.53M373.67 1122.00V1138.80M379.00 1125.73V1138.80" fill="none" stroke="#111" stroke-width="1.4"/>
<path d="M123.63 1172.47H133.03M128.97 1189.26H138.37M134.30 1193.00H143.70M139.63 1196.73H149.03M144.97 1202.33H154.37M150.30 1204.20H159.70M155.63 1211.67H165.03M160.97 1215.39H170.37M166.30 1215.40H175.70M171.63 1230.34H181.03M176.97 1230.34H186.37M182.30 1236.87H191.70M187.63 1182.73H197.03M192.97 1153.80H202.37M198.30 1141.87H207.70M203.63 1137.20H213.03M208.97 1130.67H218.37M214.30 1113.86H223.70M219.63 1103.60H229.03M224.97 1093.34H234.37M230.30 1084.00H239.70M235.63 1078.40H245.03M240.97 1070.94H250.37M246.30 1071.61H255.70M251.63 1071.61H261.03M256.97 1077.20H266.37M262.30 1065.99H271.70M267.63 1084.66H277.03M272.97 1071.61H282.37M278.30 1089.33H287.70M283.63 1087.47H293.03M288.97 1075.34H298.37M294.30 1077.21H303.70M299.63 1085.60H309.03M304.97 1089.33H314.37M310.30 1065.99H319.70M315.63 1098.66H325.03M320.97 1092.14H330.37M326.30 1099.60H335.70M331.63 1101.47H341.03M336.97 1118.27H346.37M342.30 1116.40H351.70M347.63 1126.67H357.03M352.97 1125.74H362.37M358.30 1142.54H367.70M363.63 1142.53H373.03M368.97 1138.80H378.37M374.30 1138.80H383.70" fill="none" stroke="#111" stroke-width="1.5"/>
<circle cx="128.33" cy="1164.07" r="4.0" fill="#fff" stroke="#1a1a1a" stroke-width="1.6"/>
<circle cx="133.67" cy="1178.44" r="4.0" fill="#fff" stroke="#1a1a1a" stroke-width="1.6"/>
<circle cx="139.00" cy="1185.16" r="4.0" fill="#fff" stroke="#1a1a1a" stroke-width="1.6"/>
<circle cx="144.33" cy="1187.02" r="4.0" fill="#fff" stroke="#1a1a1a" stroke-width="1.6"/>
<circle cx="149.67" cy="1193.93" r="4.0" fill="#fff" stroke="#1a1a1a" stroke-width="1.6"/>
<circle cx="155.00" cy="1194.87" r="4.0" fill="#fff" stroke="#1a1a1a" stroke-width="1.6"/>
<circle cx="160.33" cy="1203.83" r="4.0" fill="#fff" stroke="#1a1a1a" stroke-width="1.6"/>
<circle cx="165.67" cy="1207.00" r="4.0" fill="#fff" stroke="#1a1a1a" stroke-width="1.6"/>
<circle cx="171.00" cy="1205.13" r="4.0" fill="#fff" stroke="#1a1a1a" stroke-width="1.6"/>
<circle cx="176.33" cy="1222.50" r="4.0" fill="#fff" stroke="#1a1a1a" stroke-width="1.6"/>
<circle cx="181.67" cy="1222.50" r="4.0" fill="#fff" stroke="#1a1a1a" stroke-width="1.6"/>
<circle cx="187.00" cy="1224.36" r="4.0" fill="#fff" stroke="#1a1a1a" stroke-width="1.6"/>
<circle cx="192.33" cy="1163.51" r="4.0" fill="#fff" stroke="#1a1a1a" stroke-width="1.6"/>
<circle cx="197.67" cy="1146.70" r="4.0" fill="#fff" stroke="#1a1a1a" stroke-width="1.6"/>
<circle cx="203.00" cy="1134.03" r="4.0" fill="#fff" stroke="#1a1a1a" stroke-width="1.6"/>
<circle cx="208.33" cy="1130.67" r="4.0" fill="#fff" stroke="#1a1a1a" stroke-width="1.6"/>
<circle cx="213.67" cy="1116.66" r="4.0" fill="#fff" stroke="#1a1a1a" stroke-width="1.6"/>
<circle cx="219.00" cy="1098.00" r="4.0" fill="#fff" stroke="#1a1a1a" stroke-width="1.6"/>
<circle cx="224.33" cy="1089.23" r="4.0" fill="#fff" stroke="#1a1a1a" stroke-width="1.6"/>
<circle cx="229.67" cy="1078.40" r="4.0" fill="#fff" stroke="#1a1a1a" stroke-width="1.6"/>
<circle cx="235.00" cy="1070.56" r="4.0" fill="#fff" stroke="#1a1a1a" stroke-width="1.6"/>
<circle cx="240.33" cy="1065.71" r="4.0" fill="#fff" stroke="#1a1a1a" stroke-width="1.6"/>
<circle cx="245.67" cy="1056.94" r="4.0" fill="#fff" stroke="#1a1a1a" stroke-width="1.6"/>
<circle cx="251.00" cy="1056.67" r="4.0" fill="#fff" stroke="#1a1a1a" stroke-width="1.6"/>
<circle cx="256.33" cy="1060.03" r="4.0" fill="#fff" stroke="#1a1a1a" stroke-width="1.6"/>
<circle cx="261.67" cy="1063.20" r="4.0" fill="#fff" stroke="#1a1a1a" stroke-width="1.6"/>
<circle cx="267.00" cy="1051.44" r="4.0" fill="#fff" stroke="#1a1a1a" stroke-width="1.6"/>
<circle cx="272.33" cy="1066.93" r="4.0" fill="#fff" stroke="#1a1a1a" stroke-width="1.6"/>
<circle cx="277.67" cy="1054.43" r="4.0" fill="#fff" stroke="#1a1a1a" stroke-width="1.6"/>
<circle cx="283.00" cy="1074.96" r="4.0" fill="#fff" stroke="#1a1a1a" stroke-width="1.6"/>
<circle cx="288.33" cy="1072.53" r="4.0" fill="#fff" stroke="#1a1a1a" stroke-width="1.6"/>
<circle cx="293.67" cy="1062.64" r="4.0" fill="#fff" stroke="#1a1a1a" stroke-width="1.6"/>
<circle cx="299.00" cy="1060.03" r="4.0" fill="#fff" stroke="#1a1a1a" stroke-width="1.6"/>
<circle cx="304.33" cy="1069.36" r="4.0" fill="#fff" stroke="#1a1a1a" stroke-width="1.6"/>
<circle cx="309.67" cy="1077.57" r="4.0" fill="#fff" stroke="#1a1a1a" stroke-width="1.6"/>
<circle cx="315.00" cy="1051.44" r="4.0" fill="#fff" stroke="#1a1a1a" stroke-width="1.6"/>
<circle cx="320.33" cy="1086.90" r="4.0" fill="#fff" stroke="#1a1a1a" stroke-width="1.6"/>
<circle cx="325.67" cy="1080.93" r="4.0" fill="#fff" stroke="#1a1a1a" stroke-width="1.6"/>
<circle cx="331.00" cy="1080.56" r="4.0" fill="#fff" stroke="#1a1a1a" stroke-width="1.6"/>
<circle cx="336.33" cy="1092.14" r="4.0" fill="#fff" stroke="#1a1a1a" stroke-width="1.6"/>
<circle cx="341.67" cy="1101.09" r="4.0" fill="#fff" stroke="#1a1a1a" stroke-width="1.6"/>
<circle cx="347.00" cy="1101.09" r="4.0" fill="#fff" stroke="#1a1a1a" stroke-width="1.6"/>
<circle cx="352.33" cy="1110.42" r="4.0" fill="#fff" stroke="#1a1a1a" stroke-width="1.6"/>
<circle cx="357.67" cy="1110.80" r="4.0" fill="#fff" stroke="#1a1a1a" stroke-width="1.6"/>
<circle cx="363.00" cy="1125.36" r="4.0" fill="#fff" stroke="#1a1a1a" stroke-width="1.6"/>
<circle cx="368.33" cy="1130.40" r="4.0" fill="#fff" stroke="#1a1a1a" stroke-width="1.6"/>
<circle cx="373.67" cy="1122.00" r="4.0" fill="#fff" stroke="#1a1a1a" stroke-width="1.6"/>
<circle cx="379.00" cy="1125.73" r="4.0" fill="#fff" stroke="#1a1a1a" stroke-width="1.6"/>
<path d="M128.33 1174.34 L133.67 1198.23 L139.00 1200.47 L144.33 1215.77 L149.67 1215.77 L155.00 1219.51 L160.33 1217.27 L165.67 1224.36 L171.00 1226.23 L176.33 1240.04 L181.67 1230.33 L187.00 1245.64 L192.33 1172.84 L197.67 1114.24 L203.00 1076.16 L208.33 1064.96 L213.67 1054.13 L219.00 1044.80 L224.33 1045.18 L229.67 1039.20 L235.00 1040.70 L240.33 1041.44 L245.67 1033.60 L251.00 1027.73 L256.33 1032.77 L261.67 1034.64 L267.00 1034.64 L272.33 1037.63 L277.67 1033.33 L283.00 1039.49 L288.33 1045.09 L293.67 1048.83 L299.00 1049.20 L304.33 1049.20 L309.67 1064.13 L315.00 1073.47 L320.33 1063.76 L325.67 1075.71 L331.00 1088.40 L336.33 1060.40 L341.67 1088.02 L347.00 1089.33 L352.33 1105.57 L357.67 1101.09 L363.00 1093.63 L368.33 1110.42 L373.67 1089.33 L379.00 1122.93" fill="none" stroke="#1a1a1a" stroke-width="1.25"/>
<path d="M128.33 1174.34V1166.87M133.67 1198.23V1189.26M139.00 1200.47V1193.00M144.33 1215.77V1208.87M149.67 1215.77V1208.87M155.00 1219.51V1211.66M160.33 1217.27V1209.80M165.67 1224.36V1217.27M171.00 1226.23V1219.14M176.33 1240.04V1232.19M181.67 1230.33V1222.87M187.00 1245.64V1235.93M192.33 1172.84V1160.33M197.67 1114.24V1095.20M203.00 1076.16V1056.00M208.33 1064.96V1048.53M213.67 1054.13V1035.46M219.00 1044.80V1026.13M224.33 1045.18V1026.14M229.67 1039.20V1021.46M235.00 1040.70V1026.14M240.33 1041.44V1026.13M245.67 1033.60V1018.67M251.00 1027.73V1011.87M256.33 1032.77V1015.59M261.67 1034.64V1018.40M267.00 1034.64V1019.33M272.33 1037.63V1020.27M277.67 1033.33V1016.54M283.00 1039.49V1019.33M288.33 1045.09V1024.94M293.67 1048.83V1028.67M299.00 1049.20V1029.59M304.33 1049.20V1036.13M309.67 1064.13V1045.46M315.00 1073.47V1056.67M320.33 1063.76V1042.67M325.67 1075.71V1045.46M331.00 1088.40V1071.61M336.33 1060.40V1039.87M341.67 1088.02V1062.26M347.00 1089.33V1062.26M352.33 1105.57V1081.87M357.67 1101.09V1078.13M363.00 1093.63V1069.74M368.33 1110.42V1095.87M373.67 1089.33V1067.86M379.00 1122.93V1108.00" fill="none" stroke="#111" stroke-width="1.4"/>
<path d="M123.63 1166.87H133.03M128.97 1189.26H138.37M134.30 1193.00H143.70M139.63 1208.87H149.03M144.97 1208.87H154.37M150.30 1211.66H159.70M155.63 1209.80H165.03M160.97 1217.27H170.37M166.30 1219.14H175.70M171.63 1232.19H181.03M176.97 1222.87H186.37M182.30 1235.93H191.70M187.63 1160.33H197.03M192.97 1095.20H202.37M198.30 1056.00H207.70M203.63 1048.53H213.03M208.97 1035.46H218.37M214.30 1026.13H223.70M219.63 1026.14H229.03M224.97 1021.46H234.37M230.30 1026.14H239.70M235.63 1026.13H245.03M240.97 1018.67H250.37M246.30 1011.87H255.70M251.63 1015.59H261.03M256.97 1018.40H266.37M262.30 1019.33H271.70M267.63 1020.27H277.03M272.97 1016.54H282.37M278.30 1019.33H287.70M283.63 1024.94H293.03M288.97 1028.67H298.37M294.30 1029.59H303.70M299.63 1036.13H309.03M304.97 1045.46H314.37M310.30 1056.67H319.70M315.63 1042.67H325.03M320.97 1045.46H330.37M326.30 1071.61H335.70M331.63 1039.87H341.03M336.97 1062.26H346.37M342.30 1062.26H351.70M347.63 1081.87H357.03M352.97 1078.13H362.37M358.30 1069.74H367.70M363.63 1095.87H373.03M368.97 1067.86H378.37M374.30 1108.00H383.70" fill="none" stroke="#111" stroke-width="1.5"/>
<circle cx="128.33" cy="1174.34" r="4.0" fill="#787878" stroke="#1a1a1a" stroke-width="1.6"/>
<circle cx="133.67" cy="1198.23" r="4.0" fill="#787878" stroke="#1a1a1a" stroke-width="1.6"/>
<circle cx="139.00" cy="1200.47" r="4.0" fill="#787878" stroke="#1a1a1a" stroke-width="1.6"/>
<circle cx="144.33" cy="1215.77" r="4.0" fill="#787878" stroke="#1a1a1a" stroke-width="1.6"/>
<circle cx="149.67" cy="1215.77" r="4.0" fill="#787878" stroke="#1a1a1a" stroke-width="1.6"/>
<circle cx="155.00" cy="1219.51" r="4.0" fill="#787878" stroke="#1a1a1a" stroke-width="1.6"/>
<circle cx="160.33" cy="1217.27" r="4.0" fill="#787878" stroke="#1a1a1a" stroke-width="1.6"/>
<circle cx="165.67" cy="1224.36" r="4.0" fill="#787878" stroke="#1a1a1a" stroke-width="1.6"/>
<circle cx="171.00" cy="1226.23" r="4.0" fill="#787878" stroke="#1a1a1a" stroke-width="1.6"/>
<circle cx="176.33" cy="1240.04" r="4.0" fill="#787878" stroke="#1a1a1a" stroke-width="1.6"/>
<circle cx="181.67" cy="1230.33" r="4.0" fill="#787878" stroke="#1a1a1a" stroke-width="1.6"/>
<circle cx="187.00" cy="1245.64" r="4.0" fill="#787878" stroke="#1a1a1a" stroke-width="1.6"/>
<circle cx="192.33" cy="1172.84" r="4.0" fill="#787878" stroke="#1a1a1a" stroke-width="1.6"/>
<circle cx="197.67" cy="1114.24" r="4.0" fill="#787878" stroke="#1a1a1a" stroke-width="1.6"/>
<circle cx="203.00" cy="1076.16" r="4.0" fill="#787878" stroke="#1a1a1a" stroke-width="1.6"/>
<circle cx="208.33" cy="1064.96" r="4.0" fill="#787878" stroke="#1a1a1a" stroke-width="1.6"/>
<circle cx="213.67" cy="1054.13" r="4.0" fill="#787878" stroke="#1a1a1a" stroke-width="1.6"/>
<circle cx="219.00" cy="1044.80" r="4.0" fill="#787878" stroke="#1a1a1a" stroke-width="1.6"/>
<circle cx="224.33" cy="1045.18" r="4.0" fill="#787878" stroke="#1a1a1a" stroke-width="1.6"/>
<circle cx="229.67" cy="1039.20" r="4.0" fill="#787878" stroke="#1a1a1a" stroke-width="1.6"/>
<circle cx="235.00" cy="1040.70" r="4.0" fill="#787878" stroke="#1a1a1a" stroke-width="1.6"/>
<circle cx="240.33" cy="1041.44" r="4.0" fill="#787878" stroke="#1a1a1a" stroke-width="1.6"/>
<circle cx="245.67" cy="1033.60" r="4.0" fill="#787878" stroke="#1a1a1a" stroke-width="1.6"/>
<circle cx="251.00" cy="1027.73" r="4.0" fill="#787878" stroke="#1a1a1a" stroke-width="1.6"/>
<circle cx="256.33" cy="1032.77" r="4.0" fill="#787878" stroke="#1a1a1a" stroke-width="1.6"/>
<circle cx="261.67" cy="1034.64" r="4.0" fill="#787878" stroke="#1a1a1a" stroke-width="1.6"/>
<circle cx="267.00" cy="1034.64" r="4.0" fill="#787878" stroke="#1a1a1a" stroke-width="1.6"/>
<circle cx="272.33" cy="1037.63" r="4.0" fill="#787878" stroke="#1a1a1a" stroke-width="1.6"/>
<circle cx="277.67" cy="1033.33" r="4.0" fill="#787878" stroke="#1a1a1a" stroke-width="1.6"/>
<circle cx="283.00" cy="1039.49" r="4.0" fill="#787878" stroke="#1a1a1a" stroke-width="1.6"/>
<circle cx="288.33" cy="1045.09" r="4.0" fill="#787878" stroke="#1a1a1a" stroke-width="1.6"/>
<circle cx="293.67" cy="1048.83" r="4.0" fill="#787878" stroke="#1a1a1a" stroke-width="1.6"/>
<circle cx="299.00" cy="1049.20" r="4.0" fill="#787878" stroke="#1a1a1a" stroke-width="1.6"/>
<circle cx="304.33" cy="1049.20" r="4.0" fill="#787878" stroke="#1a1a1a" stroke-width="1.6"/>
<circle cx="309.67" cy="1064.13" r="4.0" fill="#787878" stroke="#1a1a1a" stroke-width="1.6"/>
<circle cx="315.00" cy="1073.47" r="4.0" fill="#787878" stroke="#1a1a1a" stroke-width="1.6"/>
<circle cx="320.33" cy="1063.76" r="4.0" fill="#787878" stroke="#1a1a1a" stroke-width="1.6"/>
<circle cx="325.67" cy="1075.71" r="4.0" fill="#787878" stroke="#1a1a1a" stroke-width="1.6"/>
<circle cx="331.00" cy="1088.40" r="4.0" fill="#787878" stroke="#1a1a1a" stroke-width="1.6"/>
<circle cx="336.33" cy="1060.40" r="4.0" fill="#787878" stroke="#1a1a1a" stroke-width="1.6"/>
<circle cx="341.67" cy="1088.02" r="4.0" fill="#787878" stroke="#1a1a1a" stroke-width="1.6"/>
<circle cx="347.00" cy="1089.33" r="4.0" fill="#787878" stroke="#1a1a1a" stroke-width="1.6"/>
<circle cx="352.33" cy="1105.57" r="4.0" fill="#787878" stroke="#1a1a1a" stroke-width="1.6"/>
<circle cx="357.67" cy="1101.09" r="4.0" fill="#787878" stroke="#1a1a1a" stroke-width="1.6"/>
<circle cx="363.00" cy="1093.63" r="4.0" fill="#787878" stroke="#1a1a1a" stroke-width="1.6"/>
<circle cx="368.33" cy="1110.42" r="4.0" fill="#787878" stroke="#1a1a1a" stroke-width="1.6"/>
<circle cx="373.67" cy="1089.33" r="4.0" fill="#787878" stroke="#1a1a1a" stroke-width="1.6"/>
<circle cx="379.00" cy="1122.93" r="4.0" fill="#787878" stroke="#1a1a1a" stroke-width="1.6"/>
<line x1="187.00" y1="1000.60" x2="187.00" y2="1278.40" stroke="#000" stroke-width="2.3" stroke-dasharray="4.5 2.18" stroke-dashoffset="1.2"/>
<path d="M422.60 1000.60H706.00V1278.40H422.60M428.60 1000.60V1278.40" fill="none" stroke="#1a1a1a" stroke-width="1.6"/>
<line x1="422.60" y1="1232.10" x2="428.60" y2="1232.10" stroke="#1a1a1a" stroke-width="1.6"/>
<line x1="422.60" y1="1185.80" x2="428.60" y2="1185.80" stroke="#1a1a1a" stroke-width="1.6"/>
<line x1="422.60" y1="1139.50" x2="428.60" y2="1139.50" stroke="#1a1a1a" stroke-width="1.6"/>
<line x1="422.60" y1="1093.20" x2="428.60" y2="1093.20" stroke="#1a1a1a" stroke-width="1.6"/>
<line x1="422.60" y1="1046.90" x2="428.60" y2="1046.90" stroke="#1a1a1a" stroke-width="1.6"/>
<line x1="439.20" y1="1278.40" x2="439.20" y2="1284.40" stroke="#1a1a1a" stroke-width="1.6"/>
<line x1="471.20" y1="1278.40" x2="471.20" y2="1284.40" stroke="#1a1a1a" stroke-width="1.6"/>
<line x1="503.20" y1="1278.40" x2="503.20" y2="1284.40" stroke="#1a1a1a" stroke-width="1.6"/>
<line x1="535.20" y1="1278.40" x2="535.20" y2="1284.40" stroke="#1a1a1a" stroke-width="1.6"/>
<line x1="567.20" y1="1278.40" x2="567.20" y2="1284.40" stroke="#1a1a1a" stroke-width="1.6"/>
<line x1="599.20" y1="1278.40" x2="599.20" y2="1284.40" stroke="#1a1a1a" stroke-width="1.6"/>
<line x1="631.20" y1="1278.40" x2="631.20" y2="1284.40" stroke="#1a1a1a" stroke-width="1.6"/>
<line x1="663.20" y1="1278.40" x2="663.20" y2="1284.40" stroke="#1a1a1a" stroke-width="1.6"/>
<line x1="695.20" y1="1278.40" x2="695.20" y2="1284.40" stroke="#1a1a1a" stroke-width="1.6"/>
<text x="435.5" y="1025.2" font-size="22" font-weight="bold">h</text>
<text x="439.20" y="1306.8" font-size="16.2" text-anchor="middle">-60</text>
<text x="471.20" y="1306.8" font-size="16.2" text-anchor="middle">-30</text>
<text x="503.20" y="1306.8" font-size="16.2" text-anchor="middle">0</text>
<text x="535.20" y="1306.8" font-size="16.2" text-anchor="middle">30</text>
<text x="567.20" y="1306.8" font-size="16.2" text-anchor="middle">60</text>
<text x="599.20" y="1306.8" font-size="16.2" text-anchor="middle">90</text>
<text x="631.20" y="1306.8" font-size="16.2" text-anchor="middle">120</text>
<text x="663.20" y="1306.8" font-size="16.2" text-anchor="middle">150</text>
<text x="695.20" y="1306.8" font-size="16.2" text-anchor="middle">180</text>
<path d="M444.53 1185.53 L449.87 1195.80 L455.20 1198.60 L460.53 1210.74 L465.87 1211.66 L471.20 1214.47 L476.53 1221.00 L481.87 1226.60 L487.20 1226.60 L492.53 1228.47 L497.87 1234.06 L503.20 1242.47 L508.53 1190.20 L513.87 1162.20 L519.20 1148.20 L524.53 1139.80 L529.87 1128.60 L535.20 1121.69 L540.53 1115.54 L545.87 1113.11 L551.20 1115.54 L556.53 1107.51 L561.87 1104.33 L567.20 1106.14 L572.53 1109.87 L577.87 1108.93 L583.20 1100.53 L588.53 1104.27 L593.87 1102.40 L599.20 1105.57 L604.53 1095.50 L609.87 1102.40 L615.20 1105.57 L620.53 1106.69 L625.87 1109.87 L631.20 1110.42 L636.53 1110.80 L641.87 1116.40 L647.20 1121.63 L652.53 1132.27 L657.87 1123.87 L663.20 1138.80 L668.53 1133.20 L673.87 1145.89 L679.20 1152.80 L684.53 1146.64 L689.87 1157.09 L695.20 1167.73" fill="none" stroke="#1a1a1a" stroke-width="1.25"/>
<path d="M444.53 1185.53V1191.13M449.87 1195.80V1204.20M455.20 1198.60V1206.06M460.53 1210.74V1217.27M465.87 1211.66V1219.13M471.20 1214.47V1222.87M476.53 1221.00V1228.46M481.87 1226.60V1234.06M487.20 1226.60V1234.06M492.53 1228.47V1235.93M497.87 1234.06V1241.53M503.20 1242.47V1249.01M508.53 1190.20V1201.40M513.87 1162.20V1169.66M519.20 1148.20V1162.21M524.53 1139.80V1152.86M529.87 1128.60V1145.40M535.20 1121.69V1138.87M540.53 1115.54V1134.20M545.87 1113.11V1134.76M551.20 1115.54V1133.27M556.53 1107.51V1126.73M561.87 1104.33V1126.73M567.20 1106.14V1126.67M572.53 1109.87V1123.50M577.87 1108.93V1123.49M583.20 1100.53V1118.27M588.53 1104.27V1120.13M593.87 1102.40V1120.14M599.20 1105.57V1124.24M604.53 1095.50V1114.54M609.87 1102.40V1121.07M615.20 1105.57V1122.00M620.53 1106.69V1123.87M625.87 1109.87V1125.73M631.20 1110.42V1126.67M636.53 1110.80V1127.60M641.87 1116.40V1133.19M647.20 1121.63V1134.14M652.53 1132.27V1149.07M657.87 1123.87V1139.73M663.20 1138.80V1151.86M668.53 1133.20V1146.27M673.87 1145.89V1158.40M679.20 1152.80V1163.07M684.53 1146.64V1158.40M689.87 1157.09V1170.53M695.20 1167.73V1180.24" fill="none" stroke="#111" stroke-width="1.4"/>
<path d="M439.83 1191.13H449.23M445.17 1204.20H454.57M450.50 1206.06H459.90M455.83 1217.27H465.23M461.17 1219.13H470.57M466.50 1222.87H475.90M471.83 1228.46H481.23M477.17 1234.06H486.57M482.50 1234.06H491.90M487.83 1235.93H497.23M493.17 1241.53H502.57M498.50 1249.01H507.90M503.83 1201.40H513.23M509.17 1169.66H518.57M514.50 1162.21H523.90M519.83 1152.86H529.23M525.17 1145.40H534.57M530.50 1138.87H539.90M535.83 1134.20H545.23M541.17 1134.76H550.57M546.50 1133.27H555.90M551.83 1126.73H561.23M557.17 1126.73H566.57M562.50 1126.67H571.90M567.83 1123.50H577.23M573.17 1123.49H582.57M578.50 1118.27H587.90M583.83 1120.13H593.23M589.17 1120.14H598.57M594.50 1124.24H603.90M599.83 1114.54H609.23M605.17 1121.07H614.57M610.50 1122.00H619.90M615.83 1123.87H625.23M621.17 1125.73H630.57M626.50 1126.67H635.90M631.83 1127.60H641.23M637.17 1133.19H646.57M642.50 1134.14H651.90M647.83 1149.07H657.23M653.17 1139.73H662.57M658.50 1151.86H667.90M663.83 1146.27H673.23M669.17 1158.40H678.57M674.50 1163.07H683.90M679.83 1158.40H689.23M685.17 1170.53H694.57M690.50 1180.24H699.90" fill="none" stroke="#111" stroke-width="1.5"/>
<circle cx="444.53" cy="1185.53" r="4.0" fill="#fff" stroke="#1a1a1a" stroke-width="1.6"/>
<circle cx="449.87" cy="1195.80" r="4.0" fill="#fff" stroke="#1a1a1a" stroke-width="1.6"/>
<circle cx="455.20" cy="1198.60" r="4.0" fill="#fff" stroke="#1a1a1a" stroke-width="1.6"/>
<circle cx="460.53" cy="1210.74" r="4.0" fill="#fff" stroke="#1a1a1a" stroke-width="1.6"/>
<circle cx="465.87" cy="1211.66" r="4.0" fill="#fff" stroke="#1a1a1a" stroke-width="1.6"/>
<circle cx="471.20" cy="1214.47" r="4.0" fill="#fff" stroke="#1a1a1a" stroke-width="1.6"/>
<circle cx="476.53" cy="1221.00" r="4.0" fill="#fff" stroke="#1a1a1a" stroke-width="1.6"/>
<circle cx="481.87" cy="1226.60" r="4.0" fill="#fff" stroke="#1a1a1a" stroke-width="1.6"/>
<circle cx="487.20" cy="1226.60" r="4.0" fill="#fff" stroke="#1a1a1a" stroke-width="1.6"/>
<circle cx="492.53" cy="1228.47" r="4.0" fill="#fff" stroke="#1a1a1a" stroke-width="1.6"/>
<circle cx="497.87" cy="1234.06" r="4.0" fill="#fff" stroke="#1a1a1a" stroke-width="1.6"/>
<circle cx="503.20" cy="1242.47" r="4.0" fill="#fff" stroke="#1a1a1a" stroke-width="1.6"/>
<circle cx="508.53" cy="1190.20" r="4.0" fill="#fff" stroke="#1a1a1a" stroke-width="1.6"/>
<circle cx="513.87" cy="1162.20" r="4.0" fill="#fff" stroke="#1a1a1a" stroke-width="1.6"/>
<circle cx="519.20" cy="1148.20" r="4.0" fill="#fff" stroke="#1a1a1a" stroke-width="1.6"/>
<circle cx="524.53" cy="1139.80" r="4.0" fill="#fff" stroke="#1a1a1a" stroke-width="1.6"/>
<circle cx="529.87" cy="1128.60" r="4.0" fill="#fff" stroke="#1a1a1a" stroke-width="1.6"/>
<circle cx="535.20" cy="1121.69" r="4.0" fill="#fff" stroke="#1a1a1a" stroke-width="1.6"/>
<circle cx="540.53" cy="1115.54" r="4.0" fill="#fff" stroke="#1a1a1a" stroke-width="1.6"/>
<circle cx="545.87" cy="1113.11" r="4.0" fill="#fff" stroke="#1a1a1a" stroke-width="1.6"/>
<circle cx="551.20" cy="1115.54" r="4.0" fill="#fff" stroke="#1a1a1a" stroke-width="1.6"/>
<circle cx="556.53" cy="1107.51" r="4.0" fill="#fff" stroke="#1a1a1a" stroke-width="1.6"/>
<circle cx="561.87" cy="1104.33" r="4.0" fill="#fff" stroke="#1a1a1a" stroke-width="1.6"/>
<circle cx="567.20" cy="1106.14" r="4.0" fill="#fff" stroke="#1a1a1a" stroke-width="1.6"/>
<circle cx="572.53" cy="1109.87" r="4.0" fill="#fff" stroke="#1a1a1a" stroke-width="1.6"/>
<circle cx="577.87" cy="1108.93" r="4.0" fill="#fff" stroke="#1a1a1a" stroke-width="1.6"/>
<circle cx="583.20" cy="1100.53" r="4.0" fill="#fff" stroke="#1a1a1a" stroke-width="1.6"/>
<circle cx="588.53" cy="1104.27" r="4.0" fill="#fff" stroke="#1a1a1a" stroke-width="1.6"/>
<circle cx="593.87" cy="1102.40" r="4.0" fill="#fff" stroke="#1a1a1a" stroke-width="1.6"/>
<circle cx="599.20" cy="1105.57" r="4.0" fill="#fff" stroke="#1a1a1a" stroke-width="1.6"/>
<circle cx="604.53" cy="1095.50" r="4.0" fill="#fff" stroke="#1a1a1a" stroke-width="1.6"/>
<circle cx="609.87" cy="1102.40" r="4.0" fill="#fff" stroke="#1a1a1a" stroke-width="1.6"/>
<circle cx="615.20" cy="1105.57" r="4.0" fill="#fff" stroke="#1a1a1a" stroke-width="1.6"/>
<circle cx="620.53" cy="1106.69" r="4.0" fill="#fff" stroke="#1a1a1a" stroke-width="1.6"/>
<circle cx="625.87" cy="1109.87" r="4.0" fill="#fff" stroke="#1a1a1a" stroke-width="1.6"/>
<circle cx="631.20" cy="1110.42" r="4.0" fill="#fff" stroke="#1a1a1a" stroke-width="1.6"/>
<circle cx="636.53" cy="1110.80" r="4.0" fill="#fff" stroke="#1a1a1a" stroke-width="1.6"/>
<circle cx="641.87" cy="1116.40" r="4.0" fill="#fff" stroke="#1a1a1a" stroke-width="1.6"/>
<circle cx="647.20" cy="1121.63" r="4.0" fill="#fff" stroke="#1a1a1a" stroke-width="1.6"/>
<circle cx="652.53" cy="1132.27" r="4.0" fill="#fff" stroke="#1a1a1a" stroke-width="1.6"/>
<circle cx="657.87" cy="1123.87" r="4.0" fill="#fff" stroke="#1a1a1a" stroke-width="1.6"/>
<circle cx="663.20" cy="1138.80" r="4.0" fill="#fff" stroke="#1a1a1a" stroke-width="1.6"/>
<circle cx="668.53" cy="1133.20" r="4.0" fill="#fff" stroke="#1a1a1a" stroke-width="1.6"/>
<circle cx="673.87" cy="1145.89" r="4.0" fill="#fff" stroke="#1a1a1a" stroke-width="1.6"/>
<circle cx="679.20" cy="1152.80" r="4.0" fill="#fff" stroke="#1a1a1a" stroke-width="1.6"/>
<circle cx="684.53" cy="1146.64" r="4.0" fill="#fff" stroke="#1a1a1a" stroke-width="1.6"/>
<circle cx="689.87" cy="1157.09" r="4.0" fill="#fff" stroke="#1a1a1a" stroke-width="1.6"/>
<circle cx="695.20" cy="1167.73" r="4.0" fill="#fff" stroke="#1a1a1a" stroke-width="1.6"/>
<path d="M444.53 1184.60 L449.87 1204.57 L455.20 1210.74 L460.53 1215.40 L465.87 1217.27 L471.20 1227.53 L476.53 1223.24 L481.87 1229.96 L487.20 1225.66 L492.53 1226.60 L497.87 1238.17 L503.20 1236.87 L508.53 1176.58 L513.87 1124.87 L519.20 1099.66 L524.53 1099.66 L529.87 1085.11 L535.20 1076.89 L540.53 1069.43 L545.87 1073.90 L551.20 1071.29 L556.53 1061.96 L561.87 1058.60 L567.20 1061.34 L572.53 1060.40 L577.87 1061.34 L583.20 1046.40 L588.53 1050.13 L593.87 1044.53 L599.20 1047.34 L604.53 1036.51 L609.87 1048.27 L615.20 1045.09 L620.53 1055.17 L625.87 1054.43 L631.20 1060.03 L636.53 1065.62 L641.87 1079.44 L647.20 1088.02 L652.53 1097.36 L657.87 1081.87 L663.20 1097.36 L668.53 1101.84 L673.87 1110.80 L679.20 1120.51 L684.53 1111.73 L689.87 1121.63 L695.20 1129.09" fill="none" stroke="#1a1a1a" stroke-width="1.25"/>
<path d="M444.53 1184.60V1178.99M449.87 1204.57V1198.60M455.20 1210.74V1204.20M460.53 1215.40V1209.80M465.87 1217.27V1211.66M471.20 1227.53V1221.00M476.53 1223.24V1217.27M481.87 1229.96V1223.80M487.20 1225.66V1217.27M492.53 1226.60V1220.06M497.87 1238.17V1231.27M503.20 1236.87V1228.47M508.53 1176.58V1165.94M513.87 1124.87V1106.20M519.20 1099.66V1076.33M524.53 1099.66V1076.33M529.87 1085.11V1060.47M535.20 1076.89V1053.00M540.53 1069.43V1048.34M545.87 1073.90V1052.99M551.20 1071.29V1053.93M556.53 1061.96V1042.73M561.87 1058.60V1041.80M567.20 1061.34V1041.73M572.53 1060.40V1041.73M577.87 1061.34V1041.73M583.20 1046.40V1027.73M588.53 1050.13V1030.53M593.87 1044.53V1026.43M599.20 1047.34V1029.60M604.53 1036.51V1019.71M609.87 1048.27V1032.41M615.20 1045.09V1030.91M620.53 1055.17V1037.99M625.87 1054.43V1040.80M631.20 1060.03V1045.47M636.53 1065.62V1051.99M641.87 1079.44V1061.34M647.20 1088.02V1073.47M652.53 1097.36V1082.80M657.87 1081.87V1067.49M663.20 1097.36V1082.80M668.53 1101.84V1090.26M673.87 1110.80V1093.07M679.20 1120.51V1107.07M684.53 1111.73V1092.13M689.87 1121.63V1101.47M695.20 1129.09V1110.79" fill="none" stroke="#111" stroke-width="1.4"/>
<path d="M439.83 1178.99H449.23M445.17 1198.60H454.57M450.50 1204.20H459.90M455.83 1209.80H465.23M461.17 1211.66H470.57M466.50 1221.00H475.90M471.83 1217.27H481.23M477.17 1223.80H486.57M482.50 1217.27H491.90M487.83 1220.06H497.23M493.17 1231.27H502.57M498.50 1228.47H507.90M503.83 1165.94H513.23M509.17 1106.20H518.57M514.50 1076.33H523.90M519.83 1076.33H529.23M525.17 1060.47H534.57M530.50 1053.00H539.90M535.83 1048.34H545.23M541.17 1052.99H550.57M546.50 1053.93H555.90M551.83 1042.73H561.23M557.17 1041.80H566.57M562.50 1041.73H571.90M567.83 1041.73H577.23M573.17 1041.73H582.57M578.50 1027.73H587.90M583.83 1030.53H593.23M589.17 1026.43H598.57M594.50 1029.60H603.90M599.83 1019.71H609.23M605.17 1032.41H614.57M610.50 1030.91H619.90M615.83 1037.99H625.23M621.17 1040.80H630.57M626.50 1045.47H635.90M631.83 1051.99H641.23M637.17 1061.34H646.57M642.50 1073.47H651.90M647.83 1082.80H657.23M653.17 1067.49H662.57M658.50 1082.80H667.90M663.83 1090.26H673.23M669.17 1093.07H678.57M674.50 1107.07H683.90M679.83 1092.13H689.23M685.17 1101.47H694.57M690.50 1110.79H699.90" fill="none" stroke="#111" stroke-width="1.5"/>
<circle cx="444.53" cy="1184.60" r="4.0" fill="#787878" stroke="#1a1a1a" stroke-width="1.6"/>
<circle cx="449.87" cy="1204.57" r="4.0" fill="#787878" stroke="#1a1a1a" stroke-width="1.6"/>
<circle cx="455.20" cy="1210.74" r="4.0" fill="#787878" stroke="#1a1a1a" stroke-width="1.6"/>
<circle cx="460.53" cy="1215.40" r="4.0" fill="#787878" stroke="#1a1a1a" stroke-width="1.6"/>
<circle cx="465.87" cy="1217.27" r="4.0" fill="#787878" stroke="#1a1a1a" stroke-width="1.6"/>
<circle cx="471.20" cy="1227.53" r="4.0" fill="#787878" stroke="#1a1a1a" stroke-width="1.6"/>
<circle cx="476.53" cy="1223.24" r="4.0" fill="#787878" stroke="#1a1a1a" stroke-width="1.6"/>
<circle cx="481.87" cy="1229.96" r="4.0" fill="#787878" stroke="#1a1a1a" stroke-width="1.6"/>
<circle cx="487.20" cy="1225.66" r="4.0" fill="#787878" stroke="#1a1a1a" stroke-width="1.6"/>
<circle cx="492.53" cy="1226.60" r="4.0" fill="#787878" stroke="#1a1a1a" stroke-width="1.6"/>
<circle cx="497.87" cy="1238.17" r="4.0" fill="#787878" stroke="#1a1a1a" stroke-width="1.6"/>
<circle cx="503.20" cy="1236.87" r="4.0" fill="#787878" stroke="#1a1a1a" stroke-width="1.6"/>
<circle cx="508.53" cy="1176.58" r="4.0" fill="#787878" stroke="#1a1a1a" stroke-width="1.6"/>
<circle cx="513.87" cy="1124.87" r="4.0" fill="#787878" stroke="#1a1a1a" stroke-width="1.6"/>
<circle cx="519.20" cy="1099.66" r="4.0" fill="#787878" stroke="#1a1a1a" stroke-width="1.6"/>
<circle cx="524.53" cy="1099.66" r="4.0" fill="#787878" stroke="#1a1a1a" stroke-width="1.6"/>
<circle cx="529.87" cy="1085.11" r="4.0" fill="#787878" stroke="#1a1a1a" stroke-width="1.6"/>
<circle cx="535.20" cy="1076.89" r="4.0" fill="#787878" stroke="#1a1a1a" stroke-width="1.6"/>
<circle cx="540.53" cy="1069.43" r="4.0" fill="#787878" stroke="#1a1a1a" stroke-width="1.6"/>
<circle cx="545.87" cy="1073.90" r="4.0" fill="#787878" stroke="#1a1a1a" stroke-width="1.6"/>
<circle cx="551.20" cy="1071.29" r="4.0" fill="#787878" stroke="#1a1a1a" stroke-width="1.6"/>
<circle cx="556.53" cy="1061.96" r="4.0" fill="#787878" stroke="#1a1a1a" stroke-width="1.6"/>
<circle cx="561.87" cy="1058.60" r="4.0" fill="#787878" stroke="#1a1a1a" stroke-width="1.6"/>
<circle cx="567.20" cy="1061.34" r="4.0" fill="#787878" stroke="#1a1a1a" stroke-width="1.6"/>
<circle cx="572.53" cy="1060.40" r="4.0" fill="#787878" stroke="#1a1a1a" stroke-width="1.6"/>
<circle cx="577.87" cy="1061.34" r="4.0" fill="#787878" stroke="#1a1a1a" stroke-width="1.6"/>
<circle cx="583.20" cy="1046.40" r="4.0" fill="#787878" stroke="#1a1a1a" stroke-width="1.6"/>
<circle cx="588.53" cy="1050.13" r="4.0" fill="#787878" stroke="#1a1a1a" stroke-width="1.6"/>
<circle cx="593.87" cy="1044.53" r="4.0" fill="#787878" stroke="#1a1a1a" stroke-width="1.6"/>
<circle cx="599.20" cy="1047.34" r="4.0" fill="#787878" stroke="#1a1a1a" stroke-width="1.6"/>
<circle cx="604.53" cy="1036.51" r="4.0" fill="#787878" stroke="#1a1a1a" stroke-width="1.6"/>
<circle cx="609.87" cy="1048.27" r="4.0" fill="#787878" stroke="#1a1a1a" stroke-width="1.6"/>
<circle cx="615.20" cy="1045.09" r="4.0" fill="#787878" stroke="#1a1a1a" stroke-width="1.6"/>
<circle cx="620.53" cy="1055.17" r="4.0" fill="#787878" stroke="#1a1a1a" stroke-width="1.6"/>
<circle cx="625.87" cy="1054.43" r="4.0" fill="#787878" stroke="#1a1a1a" stroke-width="1.6"/>
<circle cx="631.20" cy="1060.03" r="4.0" fill="#787878" stroke="#1a1a1a" stroke-width="1.6"/>
<circle cx="636.53" cy="1065.62" r="4.0" fill="#787878" stroke="#1a1a1a" stroke-width="1.6"/>
<circle cx="641.87" cy="1079.44" r="4.0" fill="#787878" stroke="#1a1a1a" stroke-width="1.6"/>
<circle cx="647.20" cy="1088.02" r="4.0" fill="#787878" stroke="#1a1a1a" stroke-width="1.6"/>
<circle cx="652.53" cy="1097.36" r="4.0" fill="#787878" stroke="#1a1a1a" stroke-width="1.6"/>
<circle cx="657.87" cy="1081.87" r="4.0" fill="#787878" stroke="#1a1a1a" stroke-width="1.6"/>
<circle cx="663.20" cy="1097.36" r="4.0" fill="#787878" stroke="#1a1a1a" stroke-width="1.6"/>
<circle cx="668.53" cy="1101.84" r="4.0" fill="#787878" stroke="#1a1a1a" stroke-width="1.6"/>
<circle cx="673.87" cy="1110.80" r="4.0" fill="#787878" stroke="#1a1a1a" stroke-width="1.6"/>
<circle cx="679.20" cy="1120.51" r="4.0" fill="#787878" stroke="#1a1a1a" stroke-width="1.6"/>
<circle cx="684.53" cy="1111.73" r="4.0" fill="#787878" stroke="#1a1a1a" stroke-width="1.6"/>
<circle cx="689.87" cy="1121.63" r="4.0" fill="#787878" stroke="#1a1a1a" stroke-width="1.6"/>
<circle cx="695.20" cy="1129.09" r="4.0" fill="#787878" stroke="#1a1a1a" stroke-width="1.6"/>
<line x1="503.20" y1="1000.60" x2="503.20" y2="1278.40" stroke="#000" stroke-width="2.3" stroke-dasharray="4.5 2.18" stroke-dashoffset="1.2"/>
<line x1="200.3" y1="62.1" x2="227" y2="62.1" stroke="#1a1a1a" stroke-width="1.4"/>
<circle cx="213.5" cy="62.1" r="4.0" fill="#787878" stroke="#1a1a1a" stroke-width="1.6"/>
<line x1="200.3" y1="83.2" x2="227" y2="83.2" stroke="#1a1a1a" stroke-width="1.4"/>
<circle cx="213.8" cy="83.2" r="4.0" fill="#fff" stroke="#1a1a1a" stroke-width="1.6"/>
<text x="239.2" y="68.1" font-size="15.5">Morphine pretreated</text>
<text x="239.2" y="89.2" font-size="15.5">Saline pretreated</text>
<text x="216.6" y="29.7" font-size="19.8" font-style="italic">Wildtype</text>
<text x="538" y="34" font-size="19.5" font-style="italic">Mutant</text>
<text transform="translate(722.8 174.7) rotate(90)" font-size="17.2" text-anchor="middle">Saline</text>
<text transform="translate(722.8 460.5) rotate(90)" font-size="17.2" text-anchor="middle">3 mg/kg</text>
<text transform="translate(722.8 783.3) rotate(90)" font-size="17.2" text-anchor="middle">10 mg/kg</text>
<text transform="translate(722.8 1118.7) rotate(90)" font-size="17.2" text-anchor="middle">30 mg/kg</text>
<text transform="translate(29.0 680.1) rotate(-90)" font-size="18.4" text-anchor="middle">Locomotor activity/5 min</text>
<text x="423.7" y="1331" font-size="15.4" text-anchor="middle">Time (5 min bins)</text>
</svg>
</body></html>
